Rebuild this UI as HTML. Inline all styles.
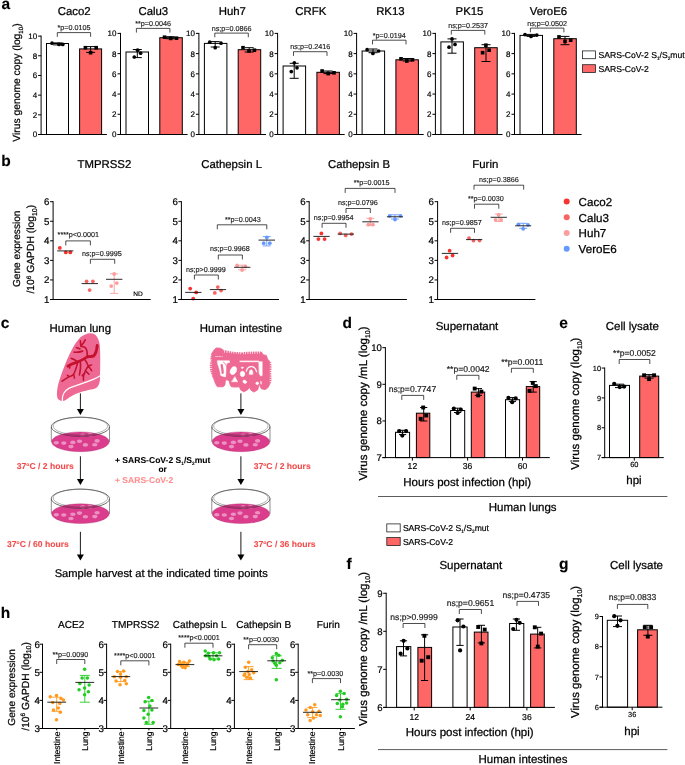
<!DOCTYPE html>
<html lang="en">
<head>
<meta charset="utf-8">
<title>Figure</title>
<style>
html,body{margin:0;padding:0;background:#fff;}
body{width:685px;height:765px;overflow:hidden;font-family:"Liberation Sans",sans-serif;}
svg{display:block;}
svg text{font-family:"Liberation Sans",sans-serif;text-rendering:geometricPrecision;}
</style>
</head>
<body>
<svg width="685" height="765" viewBox="0 0 685 765">
<rect x="0" y="0" width="685" height="765" fill="#fff"/>
<text x="1.6" y="8.8" font-size="15.5" text-anchor="start" font-weight="bold" fill="#000" stroke="#000" stroke-width="0.135">a</text>
<text x="20" y="82.5" font-size="10.3" text-anchor="middle" fill="#000" transform="rotate(-90 20 82.5)" stroke="#000" stroke-width="0.224">Virus genome copy (log<tspan font-size="6.18" dy="2.88">10</tspan><tspan dy="-2.88">)</tspan></text>
<rect x="46.5" y="43.5" width="22" height="91" fill="#fff" stroke="#000" stroke-width="1"/>
<rect x="79.6" y="48.9" width="22" height="85.6" fill="#ff6666" stroke="#000" stroke-width="1"/>
<line x1="41.1" y1="35.6" x2="41.1" y2="135" stroke="#000" stroke-width="1" />
<line x1="38.1" y1="134.5" x2="106.9" y2="134.5" stroke="#000" stroke-width="1" />
<line x1="38.1" y1="134.5" x2="41.1" y2="134.5" stroke="#000" stroke-width="1" />
<text x="37.1" y="137.38" font-size="8" text-anchor="end" fill="#000" stroke="#000" stroke-width="0.174">0</text>
<line x1="38.1" y1="114.82" x2="41.1" y2="114.82" stroke="#000" stroke-width="1" />
<text x="37.1" y="117.7" font-size="8" text-anchor="end" fill="#000" stroke="#000" stroke-width="0.174">2</text>
<line x1="38.1" y1="95.14" x2="41.1" y2="95.14" stroke="#000" stroke-width="1" />
<text x="37.1" y="98.02" font-size="8" text-anchor="end" fill="#000" stroke="#000" stroke-width="0.174">4</text>
<line x1="38.1" y1="75.46" x2="41.1" y2="75.46" stroke="#000" stroke-width="1" />
<text x="37.1" y="78.34" font-size="8" text-anchor="end" fill="#000" stroke="#000" stroke-width="0.174">6</text>
<line x1="38.1" y1="55.78" x2="41.1" y2="55.78" stroke="#000" stroke-width="1" />
<text x="37.1" y="58.66" font-size="8" text-anchor="end" fill="#000" stroke="#000" stroke-width="0.174">8</text>
<line x1="38.1" y1="36.1" x2="41.1" y2="36.1" stroke="#000" stroke-width="1" />
<text x="37.1" y="38.98" font-size="8" text-anchor="end" fill="#000" stroke="#000" stroke-width="0.174">10</text>
<text x="74.2" y="14.7" font-size="11.4" text-anchor="middle" fill="#000" stroke="#000" stroke-width="0.248">Caco2</text>
<path d="M57.6 42.9V44.9M53.1 42.9H62.1M53.1 44.9H62.1" fill="none" stroke="#000" stroke-width="1"/>
<path d="M90.6 46.6V52.4M86.1 46.6H95.1M86.1 52.4H95.1" fill="none" stroke="#000" stroke-width="1"/>
<circle cx="52" cy="43.2" r="1.85" fill="#000"/>
<circle cx="59" cy="44.4" r="1.85" fill="#000"/>
<circle cx="62.8" cy="44.4" r="1.85" fill="#000"/>
<rect x="83.6" y="45.9" width="3.6" height="3.6" fill="#000"/>
<rect x="94.4" y="45.9" width="3.6" height="3.6" fill="#000"/>
<rect x="88.8" y="50.9" width="3.6" height="3.6" fill="#000"/>
<path d="M57.3 36.8V32.6H90.6V36.8" fill="none" stroke="#000" stroke-width="0.7"/>
<text x="73.95" y="30.1" font-size="7.2" text-anchor="middle" fill="#222" stroke="#222" stroke-width="0.157">*p=0.0105</text>
<rect x="126" y="52" width="22.5" height="82.5" fill="#fff" stroke="#000" stroke-width="1"/>
<rect x="159.8" y="37.7" width="22.5" height="96.8" fill="#ff6666" stroke="#000" stroke-width="1"/>
<line x1="120.5" y1="32.9" x2="120.5" y2="135" stroke="#000" stroke-width="1" />
<line x1="117.5" y1="134.5" x2="187.6" y2="134.5" stroke="#000" stroke-width="1" />
<line x1="117.5" y1="134.5" x2="120.5" y2="134.5" stroke="#000" stroke-width="1" />
<text x="116.5" y="137.38" font-size="8" text-anchor="end" fill="#000" stroke="#000" stroke-width="0.174">0</text>
<line x1="117.5" y1="114.28" x2="120.5" y2="114.28" stroke="#000" stroke-width="1" />
<text x="116.5" y="117.16" font-size="8" text-anchor="end" fill="#000" stroke="#000" stroke-width="0.174">2</text>
<line x1="117.5" y1="94.06" x2="120.5" y2="94.06" stroke="#000" stroke-width="1" />
<text x="116.5" y="96.94" font-size="8" text-anchor="end" fill="#000" stroke="#000" stroke-width="0.174">4</text>
<line x1="117.5" y1="73.84" x2="120.5" y2="73.84" stroke="#000" stroke-width="1" />
<text x="116.5" y="76.72" font-size="8" text-anchor="end" fill="#000" stroke="#000" stroke-width="0.174">6</text>
<line x1="117.5" y1="53.62" x2="120.5" y2="53.62" stroke="#000" stroke-width="1" />
<text x="116.5" y="56.5" font-size="8" text-anchor="end" fill="#000" stroke="#000" stroke-width="0.174">8</text>
<line x1="117.5" y1="33.4" x2="120.5" y2="33.4" stroke="#000" stroke-width="1" />
<text x="116.5" y="36.28" font-size="8" text-anchor="end" fill="#000" stroke="#000" stroke-width="0.174">10</text>
<text x="153.3" y="14.7" font-size="11.4" text-anchor="middle" fill="#000" stroke="#000" stroke-width="0.248">Calu3</text>
<path d="M137.3 49.5V57.6M132.8 49.5H141.8M132.8 57.6H141.8" fill="none" stroke="#000" stroke-width="1"/>
<path d="M170.3 36.7V38.7M165.8 36.7H174.8M165.8 38.7H174.8" fill="none" stroke="#000" stroke-width="1"/>
<circle cx="137.6" cy="50.2" r="1.85" fill="#000"/>
<circle cx="140.6" cy="53.2" r="1.85" fill="#000"/>
<circle cx="134.3" cy="57" r="1.85" fill="#000"/>
<rect x="162.7" y="35.4" width="3.6" height="3.6" fill="#000"/>
<rect x="168.9" y="36.6" width="3.6" height="3.6" fill="#000"/>
<rect x="174.7" y="36.4" width="3.6" height="3.6" fill="#000"/>
<path d="M136.4 32.6V28.4H169.9V32.6" fill="none" stroke="#000" stroke-width="0.7"/>
<text x="153.15" y="25.9" font-size="7.2" text-anchor="middle" fill="#222" stroke="#222" stroke-width="0.157">**p=0.0046</text>
<rect x="204.4" y="43.4" width="22.5" height="91.1" fill="#fff" stroke="#000" stroke-width="1"/>
<rect x="238.2" y="49.7" width="22.5" height="84.8" fill="#ff6666" stroke="#000" stroke-width="1"/>
<line x1="198.9" y1="32.9" x2="198.9" y2="135" stroke="#000" stroke-width="1" />
<line x1="195.9" y1="134.5" x2="266" y2="134.5" stroke="#000" stroke-width="1" />
<line x1="195.9" y1="134.5" x2="198.9" y2="134.5" stroke="#000" stroke-width="1" />
<text x="194.9" y="137.38" font-size="8" text-anchor="end" fill="#000" stroke="#000" stroke-width="0.174">0</text>
<line x1="195.9" y1="114.28" x2="198.9" y2="114.28" stroke="#000" stroke-width="1" />
<text x="194.9" y="117.16" font-size="8" text-anchor="end" fill="#000" stroke="#000" stroke-width="0.174">2</text>
<line x1="195.9" y1="94.06" x2="198.9" y2="94.06" stroke="#000" stroke-width="1" />
<text x="194.9" y="96.94" font-size="8" text-anchor="end" fill="#000" stroke="#000" stroke-width="0.174">4</text>
<line x1="195.9" y1="73.84" x2="198.9" y2="73.84" stroke="#000" stroke-width="1" />
<text x="194.9" y="76.72" font-size="8" text-anchor="end" fill="#000" stroke="#000" stroke-width="0.174">6</text>
<line x1="195.9" y1="53.62" x2="198.9" y2="53.62" stroke="#000" stroke-width="1" />
<text x="194.9" y="56.5" font-size="8" text-anchor="end" fill="#000" stroke="#000" stroke-width="0.174">8</text>
<line x1="195.9" y1="33.4" x2="198.9" y2="33.4" stroke="#000" stroke-width="1" />
<text x="194.9" y="36.28" font-size="8" text-anchor="end" fill="#000" stroke="#000" stroke-width="0.174">10</text>
<text x="232.3" y="14.7" font-size="11.4" text-anchor="middle" fill="#000" stroke="#000" stroke-width="0.248">Huh7</text>
<path d="M215.2 41.6V47M210.7 41.6H219.7M210.7 47H219.7" fill="none" stroke="#000" stroke-width="1"/>
<path d="M249.2 47.7V52M244.7 47.7H253.7M244.7 52H253.7" fill="none" stroke="#000" stroke-width="1"/>
<circle cx="209.7" cy="42.2" r="1.85" fill="#000"/>
<circle cx="221" cy="43.2" r="1.85" fill="#000"/>
<circle cx="215.2" cy="47.7" r="1.85" fill="#000"/>
<rect x="241.2" y="45.9" width="3.6" height="3.6" fill="#000"/>
<rect x="247.2" y="49.2" width="3.6" height="3.6" fill="#000"/>
<rect x="252.6" y="48.4" width="3.6" height="3.6" fill="#000"/>
<path d="M214.8 37.3V33.1H248.3V37.3" fill="none" stroke="#000" stroke-width="0.7"/>
<text x="231.55" y="30.6" font-size="7.2" text-anchor="middle" fill="#222" stroke="#222" stroke-width="0.157">ns;p=0.0866</text>
<rect x="283.1" y="66" width="22.5" height="68.5" fill="#fff" stroke="#000" stroke-width="1"/>
<rect x="316.9" y="72.3" width="22.5" height="62.2" fill="#ff6666" stroke="#000" stroke-width="1"/>
<line x1="277.6" y1="32.9" x2="277.6" y2="135" stroke="#000" stroke-width="1" />
<line x1="274.6" y1="134.5" x2="344.7" y2="134.5" stroke="#000" stroke-width="1" />
<line x1="274.6" y1="134.5" x2="277.6" y2="134.5" stroke="#000" stroke-width="1" />
<text x="273.6" y="137.38" font-size="8" text-anchor="end" fill="#000" stroke="#000" stroke-width="0.174">0</text>
<line x1="274.6" y1="114.28" x2="277.6" y2="114.28" stroke="#000" stroke-width="1" />
<text x="273.6" y="117.16" font-size="8" text-anchor="end" fill="#000" stroke="#000" stroke-width="0.174">2</text>
<line x1="274.6" y1="94.06" x2="277.6" y2="94.06" stroke="#000" stroke-width="1" />
<text x="273.6" y="96.94" font-size="8" text-anchor="end" fill="#000" stroke="#000" stroke-width="0.174">4</text>
<line x1="274.6" y1="73.84" x2="277.6" y2="73.84" stroke="#000" stroke-width="1" />
<text x="273.6" y="76.72" font-size="8" text-anchor="end" fill="#000" stroke="#000" stroke-width="0.174">6</text>
<line x1="274.6" y1="53.62" x2="277.6" y2="53.62" stroke="#000" stroke-width="1" />
<text x="273.6" y="56.5" font-size="8" text-anchor="end" fill="#000" stroke="#000" stroke-width="0.174">8</text>
<line x1="274.6" y1="33.4" x2="277.6" y2="33.4" stroke="#000" stroke-width="1" />
<text x="273.6" y="36.28" font-size="8" text-anchor="end" fill="#000" stroke="#000" stroke-width="0.174">10</text>
<text x="310.8" y="14.7" font-size="11.4" text-anchor="middle" fill="#000" stroke="#000" stroke-width="0.248">CRFK</text>
<path d="M294.2 63.3V78.3M289.7 63.3H298.7M289.7 78.3H298.7" fill="none" stroke="#000" stroke-width="1"/>
<path d="M328 71V73.6M323.5 71H332.5M323.5 73.6H332.5" fill="none" stroke="#000" stroke-width="1"/>
<circle cx="294.3" cy="62.8" r="1.85" fill="#000"/>
<circle cx="297" cy="67.8" r="1.85" fill="#000"/>
<circle cx="291.3" cy="71.6" r="1.85" fill="#000"/>
<rect x="320.3" y="69.2" width="3.6" height="3.6" fill="#000"/>
<rect x="326.4" y="71.8" width="3.6" height="3.6" fill="#000"/>
<rect x="332.2" y="71" width="3.6" height="3.6" fill="#000"/>
<path d="M293.5 55.9V51.7H327V55.9" fill="none" stroke="#000" stroke-width="0.7"/>
<text x="310.25" y="49.2" font-size="7.2" text-anchor="middle" fill="#222" stroke="#222" stroke-width="0.157">ns;p=0.2416</text>
<rect x="362.1" y="51" width="22.5" height="83.5" fill="#fff" stroke="#000" stroke-width="1"/>
<rect x="395.9" y="59.8" width="22.5" height="74.7" fill="#ff6666" stroke="#000" stroke-width="1"/>
<line x1="356.6" y1="32.9" x2="356.6" y2="135" stroke="#000" stroke-width="1" />
<line x1="353.6" y1="134.5" x2="423.7" y2="134.5" stroke="#000" stroke-width="1" />
<line x1="353.6" y1="134.5" x2="356.6" y2="134.5" stroke="#000" stroke-width="1" />
<text x="352.6" y="137.38" font-size="8" text-anchor="end" fill="#000" stroke="#000" stroke-width="0.174">0</text>
<line x1="353.6" y1="114.28" x2="356.6" y2="114.28" stroke="#000" stroke-width="1" />
<text x="352.6" y="117.16" font-size="8" text-anchor="end" fill="#000" stroke="#000" stroke-width="0.174">2</text>
<line x1="353.6" y1="94.06" x2="356.6" y2="94.06" stroke="#000" stroke-width="1" />
<text x="352.6" y="96.94" font-size="8" text-anchor="end" fill="#000" stroke="#000" stroke-width="0.174">4</text>
<line x1="353.6" y1="73.84" x2="356.6" y2="73.84" stroke="#000" stroke-width="1" />
<text x="352.6" y="76.72" font-size="8" text-anchor="end" fill="#000" stroke="#000" stroke-width="0.174">6</text>
<line x1="353.6" y1="53.62" x2="356.6" y2="53.62" stroke="#000" stroke-width="1" />
<text x="352.6" y="56.5" font-size="8" text-anchor="end" fill="#000" stroke="#000" stroke-width="0.174">8</text>
<line x1="353.6" y1="33.4" x2="356.6" y2="33.4" stroke="#000" stroke-width="1" />
<text x="352.6" y="36.28" font-size="8" text-anchor="end" fill="#000" stroke="#000" stroke-width="0.174">10</text>
<text x="390.4" y="14.7" font-size="11.4" text-anchor="middle" fill="#000" stroke="#000" stroke-width="0.248">RK13</text>
<path d="M373 49V52.7M368.5 49H377.5M368.5 52.7H377.5" fill="none" stroke="#000" stroke-width="1"/>
<path d="M407.2 58.5V61M402.7 58.5H411.7M402.7 61H411.7" fill="none" stroke="#000" stroke-width="1"/>
<circle cx="367.1" cy="49.7" r="1.85" fill="#000"/>
<circle cx="378.6" cy="51" r="1.85" fill="#000"/>
<circle cx="372.9" cy="53.5" r="1.85" fill="#000"/>
<rect x="399.2" y="57" width="3.6" height="3.6" fill="#000"/>
<rect x="405" y="59.2" width="3.6" height="3.6" fill="#000"/>
<rect x="410.7" y="58" width="3.6" height="3.6" fill="#000"/>
<path d="M372.5 44.4V40.2H406V44.4" fill="none" stroke="#000" stroke-width="0.7"/>
<text x="389.25" y="37.7" font-size="7.2" text-anchor="middle" fill="#222" stroke="#222" stroke-width="0.157">*p=0.0194</text>
<rect x="440.9" y="41.9" width="22.5" height="92.6" fill="#fff" stroke="#000" stroke-width="1"/>
<rect x="474.7" y="47.7" width="22.5" height="86.8" fill="#ff6666" stroke="#000" stroke-width="1"/>
<line x1="435.4" y1="32.9" x2="435.4" y2="135" stroke="#000" stroke-width="1" />
<line x1="432.4" y1="134.5" x2="502.5" y2="134.5" stroke="#000" stroke-width="1" />
<line x1="432.4" y1="134.5" x2="435.4" y2="134.5" stroke="#000" stroke-width="1" />
<text x="431.4" y="137.38" font-size="8" text-anchor="end" fill="#000" stroke="#000" stroke-width="0.174">0</text>
<line x1="432.4" y1="114.28" x2="435.4" y2="114.28" stroke="#000" stroke-width="1" />
<text x="431.4" y="117.16" font-size="8" text-anchor="end" fill="#000" stroke="#000" stroke-width="0.174">2</text>
<line x1="432.4" y1="94.06" x2="435.4" y2="94.06" stroke="#000" stroke-width="1" />
<text x="431.4" y="96.94" font-size="8" text-anchor="end" fill="#000" stroke="#000" stroke-width="0.174">4</text>
<line x1="432.4" y1="73.84" x2="435.4" y2="73.84" stroke="#000" stroke-width="1" />
<text x="431.4" y="76.72" font-size="8" text-anchor="end" fill="#000" stroke="#000" stroke-width="0.174">6</text>
<line x1="432.4" y1="53.62" x2="435.4" y2="53.62" stroke="#000" stroke-width="1" />
<text x="431.4" y="56.5" font-size="8" text-anchor="end" fill="#000" stroke="#000" stroke-width="0.174">8</text>
<line x1="432.4" y1="33.4" x2="435.4" y2="33.4" stroke="#000" stroke-width="1" />
<text x="431.4" y="36.28" font-size="8" text-anchor="end" fill="#000" stroke="#000" stroke-width="0.174">10</text>
<text x="469.5" y="14.7" font-size="11.4" text-anchor="middle" fill="#000" stroke="#000" stroke-width="0.248">PK15</text>
<path d="M452 38.9V53.2M447.5 38.9H456.5M447.5 53.2H456.5" fill="none" stroke="#000" stroke-width="1"/>
<path d="M486 44.7V61.5M481.5 44.7H490.5M481.5 61.5H490.5" fill="none" stroke="#000" stroke-width="1"/>
<circle cx="452" cy="38.9" r="1.85" fill="#000"/>
<circle cx="455" cy="44.4" r="1.85" fill="#000"/>
<circle cx="449" cy="47.2" r="1.85" fill="#000"/>
<rect x="484.1" y="43.4" width="3.6" height="3.6" fill="#000"/>
<rect x="487.3" y="48.4" width="3.6" height="3.6" fill="#000"/>
<rect x="480.8" y="50.9" width="3.6" height="3.6" fill="#000"/>
<path d="M451.3 34.6V30.4H484.8V34.6" fill="none" stroke="#000" stroke-width="0.7"/>
<text x="468.05" y="27.9" font-size="7.2" text-anchor="middle" fill="#222" stroke="#222" stroke-width="0.157">ns;p=0.2537</text>
<rect x="520" y="35.4" width="22.5" height="99.1" fill="#fff" stroke="#000" stroke-width="1"/>
<rect x="553.8" y="38.7" width="22.5" height="95.8" fill="#ff6666" stroke="#000" stroke-width="1"/>
<line x1="514.5" y1="32.9" x2="514.5" y2="135" stroke="#000" stroke-width="1" />
<line x1="511.5" y1="134.5" x2="581.6" y2="134.5" stroke="#000" stroke-width="1" />
<line x1="511.5" y1="134.5" x2="514.5" y2="134.5" stroke="#000" stroke-width="1" />
<text x="510.5" y="137.38" font-size="8" text-anchor="end" fill="#000" stroke="#000" stroke-width="0.174">0</text>
<line x1="511.5" y1="114.28" x2="514.5" y2="114.28" stroke="#000" stroke-width="1" />
<text x="510.5" y="117.16" font-size="8" text-anchor="end" fill="#000" stroke="#000" stroke-width="0.174">2</text>
<line x1="511.5" y1="94.06" x2="514.5" y2="94.06" stroke="#000" stroke-width="1" />
<text x="510.5" y="96.94" font-size="8" text-anchor="end" fill="#000" stroke="#000" stroke-width="0.174">4</text>
<line x1="511.5" y1="73.84" x2="514.5" y2="73.84" stroke="#000" stroke-width="1" />
<text x="510.5" y="76.72" font-size="8" text-anchor="end" fill="#000" stroke="#000" stroke-width="0.174">6</text>
<line x1="511.5" y1="53.62" x2="514.5" y2="53.62" stroke="#000" stroke-width="1" />
<text x="510.5" y="56.5" font-size="8" text-anchor="end" fill="#000" stroke="#000" stroke-width="0.174">8</text>
<line x1="511.5" y1="33.4" x2="514.5" y2="33.4" stroke="#000" stroke-width="1" />
<text x="510.5" y="36.28" font-size="8" text-anchor="end" fill="#000" stroke="#000" stroke-width="0.174">10</text>
<text x="548.4" y="14.7" font-size="11.4" text-anchor="middle" fill="#000" stroke="#000" stroke-width="0.248">VeroE6</text>
<path d="M531 34.4V36.4M526.5 34.4H535.5M526.5 36.4H535.5" fill="none" stroke="#000" stroke-width="1"/>
<path d="M565 36.4V44.7M560.5 36.4H569.5M560.5 44.7H569.5" fill="none" stroke="#000" stroke-width="1"/>
<circle cx="525" cy="34.6" r="1.85" fill="#000"/>
<circle cx="531" cy="36.4" r="1.85" fill="#000"/>
<circle cx="536.8" cy="35.1" r="1.85" fill="#000"/>
<rect x="557.2" y="35.1" width="3.6" height="3.6" fill="#000"/>
<rect x="563.2" y="39.6" width="3.6" height="3.6" fill="#000"/>
<rect x="568.9" y="38.4" width="3.6" height="3.6" fill="#000"/>
<path d="M530.4 32.3V28.1H563.9V32.3" fill="none" stroke="#000" stroke-width="0.7"/>
<text x="547.15" y="25.6" font-size="7.2" text-anchor="middle" fill="#222" stroke="#222" stroke-width="0.157">ns;p=0.0502</text>
<rect x="582.4" y="50.9" width="13.1" height="7.8" fill="#fff" stroke="#222" stroke-width="0.8"/>
<rect x="582.4" y="64.7" width="13.1" height="7.8" fill="#ff6666" stroke="#222" stroke-width="0.8"/>
<text x="598.6" y="57.9" font-size="8.6" text-anchor="start" fill="#000" stroke="#000" stroke-width="0.187">SARS-CoV-2 S<tspan font-size="4.8" dy="2.5">1</tspan><tspan dy="-2.5">/S</tspan><tspan font-size="4.8" dy="2.5">2</tspan><tspan dy="-2.5">mut</tspan></text>
<text x="598.6" y="71.7" font-size="8.6" text-anchor="start" fill="#000" stroke="#000" stroke-width="0.187">SARS-CoV-2</text>
<text x="1.2" y="165.6" font-size="15.5" text-anchor="start" font-weight="bold" fill="#000" stroke="#000" stroke-width="0.135">b</text>
<text x="20" y="248.8" font-size="10.15" text-anchor="middle" fill="#000" transform="rotate(-90 20 248.8)" stroke="#000" stroke-width="0.221">Gene expression</text>
<text x="34" y="249.2" font-size="10.3" text-anchor="middle" fill="#000" transform="rotate(-90 34 249.2)" stroke="#000" stroke-width="0.224">/10<tspan font-size="6.4" dy="-3.4">6</tspan><tspan dy="3.4"> GAPDH (log</tspan><tspan font-size="7" dy="2.6">10</tspan><tspan dy="-2.6">)</tspan></text>
<text x="104.4" y="168.1" font-size="11.4" text-anchor="middle" fill="#000" stroke="#000" stroke-width="0.248">TMPRSS2</text>
<circle cx="59.8" cy="247.9" r="1.9" fill="#f7332f"/>
<circle cx="65.8" cy="252.4" r="1.9" fill="#f7332f"/>
<circle cx="70.3" cy="252.4" r="1.9" fill="#f7332f"/>
<line x1="57.2" y1="250.9" x2="73.4" y2="250.9" stroke="#111" stroke-width="0.9" />
<circle cx="86.6" cy="281.3" r="1.9" fill="#f76464"/>
<circle cx="92.9" cy="281.3" r="1.9" fill="#f76464"/>
<circle cx="89.6" cy="290.1" r="1.9" fill="#f76464"/>
<line x1="81.6" y1="283.6" x2="98" y2="283.6" stroke="#111" stroke-width="0.9" />
<path d="M114.2 273.8V293.4M110.2 273.8H118.2M110.2 293.4H118.2" fill="none" stroke="#fb9d9d" stroke-width="0.9"/>
<circle cx="114.2" cy="274" r="1.9" fill="#fb9d9d"/>
<circle cx="116.8" cy="283.1" r="1.9" fill="#fb9d9d"/>
<circle cx="111.2" cy="286.1" r="1.9" fill="#fb9d9d"/>
<line x1="106" y1="279.3" x2="122.4" y2="279.3" stroke="#111" stroke-width="0.9" />
<text x="138.1" y="295.8" font-size="6.6" text-anchor="middle" fill="#000" stroke="#000" stroke-width="0.143">ND</text>
<path d="M65.8 245.4V240.9H90.4V245.4" fill="none" stroke="#000" stroke-width="0.7"/>
<text x="78.3" y="237" font-size="7.2" text-anchor="middle" fill="#222" stroke="#222" stroke-width="0.157">****p&lt;0.0001</text>
<path d="M90.4 263.8V259.3H114.7V263.8" fill="none" stroke="#000" stroke-width="0.7"/>
<text x="101.8" y="255.6" font-size="7.2" text-anchor="middle" fill="#222" stroke="#222" stroke-width="0.157">ns;p=0.9995</text>
<line x1="53.1" y1="201.2" x2="53.1" y2="300" stroke="#000" stroke-width="1" />
<line x1="50.1" y1="299.5" x2="150.7" y2="299.5" stroke="#000" stroke-width="1" />
<line x1="50.1" y1="299.5" x2="53.1" y2="299.5" stroke="#000" stroke-width="1" />
<text x="49.5" y="302.99" font-size="9.7" text-anchor="end" fill="#000" stroke="#000" stroke-width="0.211">1</text>
<line x1="50.1" y1="279.94" x2="53.1" y2="279.94" stroke="#000" stroke-width="1" />
<text x="49.5" y="283.43" font-size="9.7" text-anchor="end" fill="#000" stroke="#000" stroke-width="0.211">2</text>
<line x1="50.1" y1="260.38" x2="53.1" y2="260.38" stroke="#000" stroke-width="1" />
<text x="49.5" y="263.87" font-size="9.7" text-anchor="end" fill="#000" stroke="#000" stroke-width="0.211">3</text>
<line x1="50.1" y1="240.82" x2="53.1" y2="240.82" stroke="#000" stroke-width="1" />
<text x="49.5" y="244.31" font-size="9.7" text-anchor="end" fill="#000" stroke="#000" stroke-width="0.211">4</text>
<line x1="50.1" y1="221.26" x2="53.1" y2="221.26" stroke="#000" stroke-width="1" />
<text x="49.5" y="224.75" font-size="9.7" text-anchor="end" fill="#000" stroke="#000" stroke-width="0.211">5</text>
<line x1="50.1" y1="201.7" x2="53.1" y2="201.7" stroke="#000" stroke-width="1" />
<text x="49.5" y="205.19" font-size="9.7" text-anchor="end" fill="#000" stroke="#000" stroke-width="0.211">6</text>
<text x="231.6" y="168.1" font-size="11.4" text-anchor="middle" fill="#000" stroke="#000" stroke-width="0.248">Cathepsin L</text>
<circle cx="190.2" cy="288.6" r="1.9" fill="#f7332f"/>
<circle cx="196.2" cy="292.4" r="1.9" fill="#f7332f"/>
<circle cx="193.2" cy="298.6" r="1.9" fill="#f7332f"/>
<line x1="185.2" y1="292.4" x2="201.5" y2="292.4" stroke="#111" stroke-width="0.9" />
<circle cx="217.8" cy="287.1" r="1.9" fill="#f76464"/>
<circle cx="221.1" cy="290.6" r="1.9" fill="#f76464"/>
<circle cx="214.8" cy="292.9" r="1.9" fill="#f76464"/>
<line x1="209.8" y1="289.6" x2="226.1" y2="289.6" stroke="#111" stroke-width="0.9" />
<path d="M242.25 265.2V269.8M238.25 265.2H246.25M238.25 269.8H246.25" fill="none" stroke="#fb9d9d" stroke-width="0.9"/>
<circle cx="237.1" cy="265.5" r="1.9" fill="#fb9d9d"/>
<circle cx="245.4" cy="266.5" r="1.9" fill="#fb9d9d"/>
<circle cx="242.1" cy="270" r="1.9" fill="#fb9d9d"/>
<line x1="234.1" y1="267.3" x2="250.4" y2="267.3" stroke="#111" stroke-width="0.9" />
<path d="M266.75 236.6V245.9M262.75 236.6H270.75M262.75 245.9H270.75" fill="none" stroke="#6699ff" stroke-width="0.9"/>
<circle cx="266.8" cy="237.4" r="1.9" fill="#6699ff"/>
<circle cx="263.7" cy="243.2" r="1.9" fill="#6699ff"/>
<circle cx="269.8" cy="243.2" r="1.9" fill="#6699ff"/>
<line x1="258.5" y1="240.1" x2="275" y2="240.1" stroke="#111" stroke-width="0.9" />
<path d="M194.4 279.5V275H218.3V279.5" fill="none" stroke="#000" stroke-width="0.7"/>
<text x="205.8" y="271.8" font-size="7.2" text-anchor="middle" fill="#222" stroke="#222" stroke-width="0.157">ns;p&gt;0.9999</text>
<path d="M218.3 259.5V255H242.4V259.5" fill="none" stroke="#000" stroke-width="0.7"/>
<text x="229.8" y="251.4" font-size="7.2" text-anchor="middle" fill="#222" stroke="#222" stroke-width="0.157">ns;p=0.9968</text>
<path d="M217.3 229.3V224.8H266.8V229.3" fill="none" stroke="#000" stroke-width="0.7"/>
<text x="242.9" y="221.6" font-size="7.2" text-anchor="middle" fill="#222" stroke="#222" stroke-width="0.157">**p=0.0043</text>
<line x1="181.4" y1="201.2" x2="181.4" y2="300" stroke="#000" stroke-width="1" />
<line x1="178.4" y1="299.5" x2="279" y2="299.5" stroke="#000" stroke-width="1" />
<line x1="178.4" y1="299.5" x2="181.4" y2="299.5" stroke="#000" stroke-width="1" />
<text x="177.8" y="302.99" font-size="9.7" text-anchor="end" fill="#000" stroke="#000" stroke-width="0.211">1</text>
<line x1="178.4" y1="279.94" x2="181.4" y2="279.94" stroke="#000" stroke-width="1" />
<text x="177.8" y="283.43" font-size="9.7" text-anchor="end" fill="#000" stroke="#000" stroke-width="0.211">2</text>
<line x1="178.4" y1="260.38" x2="181.4" y2="260.38" stroke="#000" stroke-width="1" />
<text x="177.8" y="263.87" font-size="9.7" text-anchor="end" fill="#000" stroke="#000" stroke-width="0.211">3</text>
<line x1="178.4" y1="240.82" x2="181.4" y2="240.82" stroke="#000" stroke-width="1" />
<text x="177.8" y="244.31" font-size="9.7" text-anchor="end" fill="#000" stroke="#000" stroke-width="0.211">4</text>
<line x1="178.4" y1="221.26" x2="181.4" y2="221.26" stroke="#000" stroke-width="1" />
<text x="177.8" y="224.75" font-size="9.7" text-anchor="end" fill="#000" stroke="#000" stroke-width="0.211">5</text>
<line x1="178.4" y1="201.7" x2="181.4" y2="201.7" stroke="#000" stroke-width="1" />
<text x="177.8" y="205.19" font-size="9.7" text-anchor="end" fill="#000" stroke="#000" stroke-width="0.211">6</text>
<text x="359" y="168.1" font-size="11.4" text-anchor="middle" fill="#000" stroke="#000" stroke-width="0.248">Cathepsin B</text>
<circle cx="321.4" cy="233.4" r="1.9" fill="#f7332f"/>
<circle cx="318.4" cy="239.1" r="1.9" fill="#f7332f"/>
<circle cx="324.6" cy="239.1" r="1.9" fill="#f7332f"/>
<line x1="313.4" y1="236.4" x2="329.7" y2="236.4" stroke="#111" stroke-width="0.9" />
<circle cx="340.2" cy="233.4" r="1.9" fill="#f76464"/>
<circle cx="345.7" cy="235.4" r="1.9" fill="#f76464"/>
<circle cx="351.5" cy="234.1" r="1.9" fill="#f76464"/>
<line x1="337.7" y1="234.1" x2="354" y2="234.1" stroke="#111" stroke-width="0.9" />
<path d="M370.45 218.3V225.6M366.45 218.3H374.45M366.45 225.6H374.45" fill="none" stroke="#fb9d9d" stroke-width="0.9"/>
<circle cx="370.3" cy="218.8" r="1.9" fill="#fb9d9d"/>
<circle cx="368.3" cy="224.6" r="1.9" fill="#fb9d9d"/>
<circle cx="372.9" cy="224.6" r="1.9" fill="#fb9d9d"/>
<line x1="362.3" y1="221.8" x2="378.6" y2="221.8" stroke="#111" stroke-width="0.9" />
<path d="M394.95 214.8V219M390.95 214.8H398.95M390.95 219H398.95" fill="none" stroke="#6699ff" stroke-width="0.9"/>
<circle cx="389.7" cy="215.8" r="1.9" fill="#6699ff"/>
<circle cx="400.5" cy="215.8" r="1.9" fill="#6699ff"/>
<circle cx="395" cy="219.5" r="1.9" fill="#6699ff"/>
<line x1="386.9" y1="216.8" x2="403" y2="216.8" stroke="#111" stroke-width="0.9" />
<path d="M322.1 227.8V223.3H346V227.8" fill="none" stroke="#000" stroke-width="0.7"/>
<text x="333.7" y="219.5" font-size="7.2" text-anchor="middle" fill="#222" stroke="#222" stroke-width="0.157">ns;p=0.9954</text>
<path d="M346 213V208.5H370.3V213" fill="none" stroke="#000" stroke-width="0.7"/>
<text x="357.8" y="204.8" font-size="7.2" text-anchor="middle" fill="#222" stroke="#222" stroke-width="0.157">ns;p=0.0796</text>
<path d="M345.2 192.9V188.4H395V192.9" fill="none" stroke="#000" stroke-width="0.7"/>
<text x="371.6" y="185.2" font-size="7.2" text-anchor="middle" fill="#222" stroke="#222" stroke-width="0.157">**p=0.0015</text>
<line x1="309.2" y1="201.2" x2="309.2" y2="300" stroke="#000" stroke-width="1" />
<line x1="306.2" y1="299.5" x2="406.9" y2="299.5" stroke="#000" stroke-width="1" />
<line x1="306.2" y1="299.5" x2="309.2" y2="299.5" stroke="#000" stroke-width="1" />
<text x="305.6" y="302.99" font-size="9.7" text-anchor="end" fill="#000" stroke="#000" stroke-width="0.211">1</text>
<line x1="306.2" y1="279.94" x2="309.2" y2="279.94" stroke="#000" stroke-width="1" />
<text x="305.6" y="283.43" font-size="9.7" text-anchor="end" fill="#000" stroke="#000" stroke-width="0.211">2</text>
<line x1="306.2" y1="260.38" x2="309.2" y2="260.38" stroke="#000" stroke-width="1" />
<text x="305.6" y="263.87" font-size="9.7" text-anchor="end" fill="#000" stroke="#000" stroke-width="0.211">3</text>
<line x1="306.2" y1="240.82" x2="309.2" y2="240.82" stroke="#000" stroke-width="1" />
<text x="305.6" y="244.31" font-size="9.7" text-anchor="end" fill="#000" stroke="#000" stroke-width="0.211">4</text>
<line x1="306.2" y1="221.26" x2="309.2" y2="221.26" stroke="#000" stroke-width="1" />
<text x="305.6" y="224.75" font-size="9.7" text-anchor="end" fill="#000" stroke="#000" stroke-width="0.211">5</text>
<line x1="306.2" y1="201.7" x2="309.2" y2="201.7" stroke="#000" stroke-width="1" />
<text x="305.6" y="205.19" font-size="9.7" text-anchor="end" fill="#000" stroke="#000" stroke-width="0.211">6</text>
<text x="485.3" y="168.1" font-size="11.4" text-anchor="middle" fill="#000" stroke="#000" stroke-width="0.248">Furin</text>
<circle cx="449.6" cy="250.7" r="1.9" fill="#f7332f"/>
<circle cx="446.6" cy="257.5" r="1.9" fill="#f7332f"/>
<circle cx="452.6" cy="255.5" r="1.9" fill="#f7332f"/>
<line x1="441.8" y1="253.4" x2="458.2" y2="253.4" stroke="#111" stroke-width="0.9" />
<circle cx="469" cy="238.1" r="1.9" fill="#f76464"/>
<circle cx="473.5" cy="240.6" r="1.9" fill="#f76464"/>
<circle cx="479.5" cy="240.6" r="1.9" fill="#f76464"/>
<line x1="466" y1="239.6" x2="482.3" y2="239.6" stroke="#111" stroke-width="0.9" />
<path d="M498.75 214V221.5M494.75 214H502.75M494.75 221.5H502.75" fill="none" stroke="#fb9d9d" stroke-width="0.9"/>
<circle cx="498.6" cy="214.8" r="1.9" fill="#fb9d9d"/>
<circle cx="495.6" cy="219.8" r="1.9" fill="#fb9d9d"/>
<circle cx="501.1" cy="219.8" r="1.9" fill="#fb9d9d"/>
<line x1="490.6" y1="217.3" x2="506.9" y2="217.3" stroke="#111" stroke-width="0.9" />
<path d="M523.2 223.3V228.3M519.2 223.3H527.2M519.2 228.3H527.2" fill="none" stroke="#6699ff" stroke-width="0.9"/>
<circle cx="518.4" cy="224.3" r="1.9" fill="#6699ff"/>
<circle cx="528" cy="224.8" r="1.9" fill="#6699ff"/>
<circle cx="523.2" cy="228.8" r="1.9" fill="#6699ff"/>
<line x1="515.2" y1="225.8" x2="531.2" y2="225.8" stroke="#111" stroke-width="0.9" />
<path d="M450.6 232.8V228.3H474.5V232.8" fill="none" stroke="#000" stroke-width="0.7"/>
<text x="461.9" y="224.7" font-size="7.2" text-anchor="middle" fill="#222" stroke="#222" stroke-width="0.157">ns;p=0.9857</text>
<path d="M474.5 208.7V204.2H498.8V208.7" fill="none" stroke="#000" stroke-width="0.7"/>
<text x="485.8" y="201" font-size="7.2" text-anchor="middle" fill="#222" stroke="#222" stroke-width="0.157">**p=0.0030</text>
<path d="M474 189.7V185.2H523.7V189.7" fill="none" stroke="#000" stroke-width="0.7"/>
<text x="498.8" y="181.5" font-size="7.2" text-anchor="middle" fill="#222" stroke="#222" stroke-width="0.157">ns;p=0.3866</text>
<line x1="437.6" y1="201.2" x2="437.6" y2="300" stroke="#000" stroke-width="1" />
<line x1="434.6" y1="299.5" x2="535.4" y2="299.5" stroke="#000" stroke-width="1" />
<line x1="434.6" y1="299.5" x2="437.6" y2="299.5" stroke="#000" stroke-width="1" />
<text x="434" y="302.99" font-size="9.7" text-anchor="end" fill="#000" stroke="#000" stroke-width="0.211">1</text>
<line x1="434.6" y1="279.94" x2="437.6" y2="279.94" stroke="#000" stroke-width="1" />
<text x="434" y="283.43" font-size="9.7" text-anchor="end" fill="#000" stroke="#000" stroke-width="0.211">2</text>
<line x1="434.6" y1="260.38" x2="437.6" y2="260.38" stroke="#000" stroke-width="1" />
<text x="434" y="263.87" font-size="9.7" text-anchor="end" fill="#000" stroke="#000" stroke-width="0.211">3</text>
<line x1="434.6" y1="240.82" x2="437.6" y2="240.82" stroke="#000" stroke-width="1" />
<text x="434" y="244.31" font-size="9.7" text-anchor="end" fill="#000" stroke="#000" stroke-width="0.211">4</text>
<line x1="434.6" y1="221.26" x2="437.6" y2="221.26" stroke="#000" stroke-width="1" />
<text x="434" y="224.75" font-size="9.7" text-anchor="end" fill="#000" stroke="#000" stroke-width="0.211">5</text>
<line x1="434.6" y1="201.7" x2="437.6" y2="201.7" stroke="#000" stroke-width="1" />
<text x="434" y="205.19" font-size="9.7" text-anchor="end" fill="#000" stroke="#000" stroke-width="0.211">6</text>
<circle cx="566.7" cy="201.4" r="3" fill="#f7332f"/>
<text x="578.6" y="205.7" font-size="11.6" text-anchor="start" fill="#000" stroke="#000" stroke-width="0.252">Caco2</text>
<circle cx="566.7" cy="217.2" r="3" fill="#f76464"/>
<text x="578.6" y="221.5" font-size="11.6" text-anchor="start" fill="#000" stroke="#000" stroke-width="0.252">Calu3</text>
<circle cx="566.7" cy="233" r="3" fill="#fb9d9d"/>
<text x="578.6" y="237.3" font-size="11.6" text-anchor="start" fill="#000" stroke="#000" stroke-width="0.252">Huh7</text>
<circle cx="566.7" cy="248.8" r="3" fill="#6699ff"/>
<text x="578.6" y="253.1" font-size="11.6" text-anchor="start" fill="#000" stroke="#000" stroke-width="0.252">VeroE6</text>
<text x="0.8" y="328" font-size="15.5" text-anchor="start" font-weight="bold" fill="#000" stroke="#000" stroke-width="0.135">c</text>
<text x="80.3" y="332.1" font-size="11.4" text-anchor="middle" fill="#000" stroke="#000" stroke-width="0.248">Human lung</text>
<text x="240.9" y="332.1" font-size="11.4" text-anchor="middle" fill="#000" stroke="#000" stroke-width="0.248">Human intestine</text>
<g transform="translate(40 325) scale(0.12555)">
<path d="M400 65 C440 62 470 100 476 160 C482 230 480 330 478 420 C478 470 462 505 420 512 C350 524 270 545 205 598 C180 612 145 605 137 575 C128 520 150 440 190 340 C225 250 270 150 320 100 C345 78 375 66 400 65Z" fill="#ee6a94"/>
<path d="M178 606 C176 560 185 530 230 505 C300 470 420 450 478 405" fill="none" stroke="#fff" stroke-width="10"/>
<g fill="none" stroke="#c4122f" stroke-linecap="round" stroke-linejoin="round">
<path d="M456 162 C452 200 446 228 428 246 C410 256 392 246 376 254 C350 270 320 288 290 298 C262 306 240 314 222 328" stroke-width="23"/>
<path d="M376 254 C378 220 376 196 360 180 C350 170 340 176 326 170 M326 170 C324 150 322 138 322 126 M326 170 C340 152 352 136 360 118 M340 208 C316 216 294 220 272 216 M318 190 C306 186 296 182 290 180" stroke-width="13"/>
<path d="M300 296 C284 280 266 270 250 266 M240 318 C236 326 234 334 236 342" stroke-width="14"/>
<path d="M352 268 C370 290 378 308 384 326 C396 340 404 350 412 364 M384 326 C394 322 402 320 410 318 M384 326 C366 350 354 376 348 402 C346 416 344 428 346 440 M362 366 C374 376 382 384 390 392 M356 384 C348 390 342 396 336 404" stroke-width="12.5"/>
<path d="M322 300 C326 330 322 362 314 398 M300 300 C290 340 280 370 268 392 C262 404 250 408 232 412 C214 420 194 436 176 448 M268 392 C272 404 274 414 274 424 M232 412 C226 406 222 402 218 400" stroke-width="12.5"/>
</g></g>
<g transform="translate(208 346) scale(0.06274)" stroke-linecap="round" stroke-linejoin="round">
<path d="M45 190 L60 120 L100 60 L130 32 L200 36 L250 70 L290 78 L400 100 L540 110 L610 100 L760 95 L850 95 L880 140 L930 150 L950 210 L1000 260 L1005 350 L1000 450 L1005 560 L980 620 L950 670 L910 695 L850 682 L830 640 L822 600 L806 650 L790 700 L730 735 L680 700 L660 655 L630 700 L570 730 L520 700 L500 650 L440 655 L370 650 L350 610 L340 560 L300 535 L275 560 L270 620 L240 650 L150 650 L120 600 L90 520 L60 450 L40 380 L35 300 L50 240Z" fill="#ee6a94" stroke="#ee6a94" stroke-width="14"/>
<path d="M262 70 L540 98 L850 84" fill="none" stroke="#fff" stroke-width="70" stroke-dasharray="11 26" stroke-linecap="butt"/>
<path d="M30 150 L46 470" fill="none" stroke="#fff" stroke-width="50" stroke-dasharray="10 24" stroke-linecap="butt"/>
<path d="M1010 240 L1006 620" fill="none" stroke="#fff" stroke-width="50" stroke-dasharray="10 26" stroke-linecap="butt"/>
<path d="M152 234 L340 234 L345 262 L302 272 L292 330 L286 400 L282 490 L256 490 L202 470 L190 400 L170 330 L152 282Z" fill="#fff" stroke="#fff" stroke-width="8"/>
<ellipse cx="405" cy="392" rx="46" ry="68" transform="rotate(25 405 392)" fill="#fff" stroke="#fff" stroke-width="8"/>
<path d="M430 492 L472 570 L380 570Z" fill="#fff" stroke="#fff" stroke-width="8"/>
<path d="M512 238 H810 V252 H512Z" fill="#fff" stroke="#fff" stroke-width="8"/>
<path d="M812 250 L864 250 L864 470 L840 480 L816 440Z" fill="#fff" stroke="#fff" stroke-width="8"/>
<path d="M612 400 C620 350 660 322 700 330 C740 338 768 370 774 410" fill="none" stroke="#fff" stroke-width="20"/>
<path d="M658 450 C654 400 672 378 688 380 C706 382 718 406 714 450Z" fill="#fff" stroke="#fff" stroke-width="8"/>
<ellipse cx="550" cy="445" rx="36" ry="44" fill="#fff" stroke="#fff" stroke-width="8"/>
<ellipse cx="546" cy="345" rx="16" ry="12" fill="#fff" stroke="#fff" stroke-width="8"/>
<ellipse cx="586" cy="570" rx="32" ry="24" transform="rotate(25 586 570)" fill="#fff" stroke="#fff" stroke-width="8"/>
<ellipse cx="785" cy="595" rx="22" ry="22" fill="#fff" stroke="#fff" stroke-width="8"/>
<path d="M842 565 L848 605" fill="none" stroke="#fff" stroke-width="18"/>
<path d="M218 306 C226 340 232 380 234 428" fill="none" stroke="#ee6a94" stroke-width="36"/>
<path d="M246 256 C290 280 312 340 316 420" fill="none" stroke="#ee6a94" stroke-width="13"/>
<path d="M120 168 H230" fill="none" stroke="#fff" stroke-width="9" stroke-dasharray="30 22"/>
</g>
<line x1="80.4" y1="393.4" x2="80.4" y2="409.5" stroke="#000" stroke-width="0.9" />
<path d="M76.9 409H83.9L80.4 415Z" fill="#000"/>
<clipPath id="dc1"><ellipse cx="80.4" cy="441.8" rx="28.8" ry="9.9"/></clipPath>
<ellipse cx="80.4" cy="441.8" rx="28.8" ry="9.9" fill="#dc3c8c" stroke="#a8316f" stroke-width="0.35"/>
<ellipse cx="56.3" cy="442.8" rx="2.7" ry="1.8" fill="#eb92c2"/>
<ellipse cx="63.8" cy="443.1" rx="2.7" ry="1.8" fill="#eb92c2"/>
<ellipse cx="72.9" cy="442.4" rx="2.7" ry="1.8" fill="#eb92c2"/>
<ellipse cx="79.5" cy="441.2" rx="2.7" ry="1.8" fill="#eb92c2"/>
<ellipse cx="71" cy="446.6" rx="2.7" ry="1.8" fill="#eb92c2"/>
<ellipse cx="85.4" cy="444.9" rx="2.7" ry="1.8" fill="#eb92c2"/>
<ellipse cx="94.8" cy="444.7" rx="2.7" ry="1.8" fill="#eb92c2"/>
<ellipse cx="97.1" cy="440.9" rx="2.7" ry="1.8" fill="#eb92c2"/>
<ellipse cx="82.7" cy="435.2" rx="2.7" ry="1.8" fill="#eb92c2"/>
<ellipse cx="90.2" cy="434.8" rx="2.7" ry="1.8" fill="#eb92c2"/>
<ellipse cx="80.4" cy="426.8" rx="29.1" ry="9.6" fill="none" stroke="#333" stroke-width="0.7"/>
<ellipse cx="80.4" cy="426.1" rx="27.2" ry="8.8" fill="none" stroke="#666" stroke-width="0.5"/>
<path d="M51.3 426.8V441.8M109.5 426.8V441.8" stroke="#444" stroke-width="0.6" fill="none"/>
<g clip-path="url(#dc1)"><ellipse cx="80.4" cy="426.4" rx="28.1" ry="9.2" fill="none" stroke="#b0286f" stroke-width="1.7" opacity="0.85"/></g>
<line x1="80.4" y1="456.3" x2="80.4" y2="479.4" stroke="#000" stroke-width="0.9" />
<path d="M76.9 478.9H83.9L80.4 484.9Z" fill="#000"/>
<clipPath id="dc2"><ellipse cx="80.4" cy="513.7" rx="28.8" ry="9.9"/></clipPath>
<ellipse cx="80.4" cy="513.7" rx="28.8" ry="9.9" fill="#dc3c8c" stroke="#a8316f" stroke-width="0.35"/>
<ellipse cx="56.3" cy="514.7" rx="2.7" ry="1.8" fill="#eb92c2"/>
<ellipse cx="63.8" cy="515" rx="2.7" ry="1.8" fill="#eb92c2"/>
<ellipse cx="72.9" cy="514.3" rx="2.7" ry="1.8" fill="#eb92c2"/>
<ellipse cx="79.5" cy="513.1" rx="2.7" ry="1.8" fill="#eb92c2"/>
<ellipse cx="71" cy="518.5" rx="2.7" ry="1.8" fill="#eb92c2"/>
<ellipse cx="85.4" cy="516.8" rx="2.7" ry="1.8" fill="#eb92c2"/>
<ellipse cx="94.8" cy="516.6" rx="2.7" ry="1.8" fill="#eb92c2"/>
<ellipse cx="97.1" cy="512.8" rx="2.7" ry="1.8" fill="#eb92c2"/>
<ellipse cx="82.7" cy="507.1" rx="2.7" ry="1.8" fill="#eb92c2"/>
<ellipse cx="90.2" cy="506.7" rx="2.7" ry="1.8" fill="#eb92c2"/>
<ellipse cx="80.4" cy="498.7" rx="29.1" ry="9.6" fill="none" stroke="#333" stroke-width="0.7"/>
<ellipse cx="80.4" cy="498" rx="27.2" ry="8.8" fill="none" stroke="#666" stroke-width="0.5"/>
<path d="M51.3 498.7V513.7M109.5 498.7V513.7" stroke="#444" stroke-width="0.6" fill="none"/>
<g clip-path="url(#dc2)"><ellipse cx="80.4" cy="498.3" rx="28.1" ry="9.2" fill="none" stroke="#b0286f" stroke-width="1.7" opacity="0.85"/></g>
<line x1="80.4" y1="531.8" x2="80.4" y2="555.1" stroke="#000" stroke-width="0.9" />
<path d="M76.9 554.6H83.9L80.4 560.6Z" fill="#000"/>
<line x1="240.9" y1="393.4" x2="240.9" y2="409.5" stroke="#000" stroke-width="0.9" />
<path d="M237.4 409H244.4L240.9 415Z" fill="#000"/>
<clipPath id="dc3"><ellipse cx="240.9" cy="441.8" rx="28.8" ry="9.9"/></clipPath>
<ellipse cx="240.9" cy="441.8" rx="28.8" ry="9.9" fill="#dc3c8c" stroke="#a8316f" stroke-width="0.35"/>
<ellipse cx="216.8" cy="442.8" rx="2.7" ry="1.8" fill="#eb92c2"/>
<ellipse cx="224.3" cy="443.1" rx="2.7" ry="1.8" fill="#eb92c2"/>
<ellipse cx="233.4" cy="442.4" rx="2.7" ry="1.8" fill="#eb92c2"/>
<ellipse cx="240" cy="441.2" rx="2.7" ry="1.8" fill="#eb92c2"/>
<ellipse cx="231.5" cy="446.6" rx="2.7" ry="1.8" fill="#eb92c2"/>
<ellipse cx="245.9" cy="444.9" rx="2.7" ry="1.8" fill="#eb92c2"/>
<ellipse cx="255.3" cy="444.7" rx="2.7" ry="1.8" fill="#eb92c2"/>
<ellipse cx="257.6" cy="440.9" rx="2.7" ry="1.8" fill="#eb92c2"/>
<ellipse cx="243.2" cy="435.2" rx="2.7" ry="1.8" fill="#eb92c2"/>
<ellipse cx="250.7" cy="434.8" rx="2.7" ry="1.8" fill="#eb92c2"/>
<ellipse cx="240.9" cy="426.8" rx="29.1" ry="9.6" fill="none" stroke="#333" stroke-width="0.7"/>
<ellipse cx="240.9" cy="426.1" rx="27.2" ry="8.8" fill="none" stroke="#666" stroke-width="0.5"/>
<path d="M211.8 426.8V441.8M270 426.8V441.8" stroke="#444" stroke-width="0.6" fill="none"/>
<g clip-path="url(#dc3)"><ellipse cx="240.9" cy="426.4" rx="28.1" ry="9.2" fill="none" stroke="#b0286f" stroke-width="1.7" opacity="0.85"/></g>
<line x1="240.9" y1="456.3" x2="240.9" y2="479.4" stroke="#000" stroke-width="0.9" />
<path d="M237.4 478.9H244.4L240.9 484.9Z" fill="#000"/>
<clipPath id="dc4"><ellipse cx="240.9" cy="513.7" rx="28.8" ry="9.9"/></clipPath>
<ellipse cx="240.9" cy="513.7" rx="28.8" ry="9.9" fill="#dc3c8c" stroke="#a8316f" stroke-width="0.35"/>
<ellipse cx="216.8" cy="514.7" rx="2.7" ry="1.8" fill="#eb92c2"/>
<ellipse cx="224.3" cy="515" rx="2.7" ry="1.8" fill="#eb92c2"/>
<ellipse cx="233.4" cy="514.3" rx="2.7" ry="1.8" fill="#eb92c2"/>
<ellipse cx="240" cy="513.1" rx="2.7" ry="1.8" fill="#eb92c2"/>
<ellipse cx="231.5" cy="518.5" rx="2.7" ry="1.8" fill="#eb92c2"/>
<ellipse cx="245.9" cy="516.8" rx="2.7" ry="1.8" fill="#eb92c2"/>
<ellipse cx="255.3" cy="516.6" rx="2.7" ry="1.8" fill="#eb92c2"/>
<ellipse cx="257.6" cy="512.8" rx="2.7" ry="1.8" fill="#eb92c2"/>
<ellipse cx="243.2" cy="507.1" rx="2.7" ry="1.8" fill="#eb92c2"/>
<ellipse cx="250.7" cy="506.7" rx="2.7" ry="1.8" fill="#eb92c2"/>
<ellipse cx="240.9" cy="498.7" rx="29.1" ry="9.6" fill="none" stroke="#333" stroke-width="0.7"/>
<ellipse cx="240.9" cy="498" rx="27.2" ry="8.8" fill="none" stroke="#666" stroke-width="0.5"/>
<path d="M211.8 498.7V513.7M270 498.7V513.7" stroke="#444" stroke-width="0.6" fill="none"/>
<g clip-path="url(#dc4)"><ellipse cx="240.9" cy="498.3" rx="28.1" ry="9.2" fill="none" stroke="#b0286f" stroke-width="1.7" opacity="0.85"/></g>
<line x1="240.9" y1="531.8" x2="240.9" y2="555.1" stroke="#000" stroke-width="0.9" />
<path d="M237.4 554.6H244.4L240.9 560.6Z" fill="#000"/>
<text x="16.8" y="469.4" font-size="8.6" text-anchor="start" font-weight="bold" fill="#f24a4a" stroke="#f24a4a" stroke-width="0.075">37<tspan font-size="5" dy="-3">o</tspan><tspan dy="3">C</tspan> / 2 hours</text>
<text x="7" y="546.5" font-size="8.6" text-anchor="start" font-weight="bold" fill="#f24a4a" stroke="#f24a4a" stroke-width="0.075">37<tspan font-size="5" dy="-3">o</tspan><tspan dy="3">C</tspan> / 60 hours</text>
<text x="253.7" y="469.4" font-size="8.6" text-anchor="start" font-weight="bold" fill="#f24a4a" stroke="#f24a4a" stroke-width="0.075">37<tspan font-size="5" dy="-3">o</tspan><tspan dy="3">C</tspan> / 2 hours</text>
<text x="253.7" y="546.5" font-size="8.6" text-anchor="start" font-weight="bold" fill="#f24a4a" stroke="#f24a4a" stroke-width="0.075">37<tspan font-size="5" dy="-3">o</tspan><tspan dy="3">C</tspan> / 36 hours</text>
<text x="115" y="462.7" font-size="8.55" text-anchor="start" font-weight="bold" fill="#000" stroke="#000" stroke-width="0.074">+ SARS-CoV-2 S<tspan font-size="4.8" dy="2.5">1</tspan><tspan dy="-2.5">/S</tspan><tspan font-size="4.8" dy="2.5">2</tspan><tspan dy="-2.5">mut</tspan></text>
<text x="162.7" y="472.4" font-size="8.4" text-anchor="middle" font-weight="bold" fill="#000" stroke="#000" stroke-width="0.073">or</text>
<text x="115" y="482.7" font-size="8.55" text-anchor="start" font-weight="bold" fill="#ff8f8f" stroke="#ff8f8f" stroke-width="0.074">+ SARS-CoV-2</text>
<text x="54.7" y="576.9" font-size="11.15" text-anchor="start" fill="#000" stroke="#000" stroke-width="0.242">Sample harvest at the indicated time points</text>
<text x="342.6" y="328.2" font-size="15.5" text-anchor="start" font-weight="bold" fill="#000" stroke="#000" stroke-width="0.135">d</text>
<text x="467" y="329.6" font-size="11.5" text-anchor="middle" fill="#000" stroke="#000" stroke-width="0.25">Supernatant</text>
<text x="366.8" y="403.5" font-size="11.5" text-anchor="middle" fill="#000" transform="rotate(-90 366.8 403.5)" stroke="#000" stroke-width="0.25">Virus genome copy /mL (log<tspan font-size="6.9" dy="3.22">10</tspan><tspan dy="-3.22">)</tspan></text>
<rect x="395.5" y="432.3" width="14.1" height="25.3" fill="#fff" stroke="#000" stroke-width="1"/>
<rect x="416.4" y="413.2" width="13.4" height="44.4" fill="#ff6666" stroke="#000" stroke-width="1"/>
<path d="M402.6 430.3V434.6M399 430.3H406.2M399 434.6H406.2" fill="none" stroke="#000" stroke-width="1"/>
<path d="M423.7 407.5V421M420.1 407.5H427.3M420.1 421H427.3" fill="none" stroke="#000" stroke-width="1"/>
<circle cx="399.1" cy="431.1" r="2.1" fill="#000"/>
<circle cx="406.1" cy="431.1" r="2.1" fill="#000"/>
<circle cx="402.3" cy="435.6" r="2.1" fill="#000"/>
<rect x="421.25" y="405.55" width="3.9" height="3.9" fill="#000"/>
<rect x="424.25" y="413.55" width="3.9" height="3.9" fill="#000"/>
<rect x="418.75" y="416.85" width="3.9" height="3.9" fill="#000"/>
<rect x="450.6" y="410.5" width="14.1" height="47.1" fill="#fff" stroke="#000" stroke-width="1"/>
<rect x="471.3" y="392.1" width="13.4" height="65.5" fill="#ff6666" stroke="#000" stroke-width="1"/>
<path d="M457.6 408.2V412.5M454 408.2H461.2M454 412.5H461.2" fill="none" stroke="#000" stroke-width="1"/>
<path d="M478.4 388.6V395.4M474.8 388.6H482M474.8 395.4H482" fill="none" stroke="#000" stroke-width="1"/>
<circle cx="453.8" cy="408.5" r="2.1" fill="#000"/>
<circle cx="460.8" cy="409.7" r="2.1" fill="#000"/>
<circle cx="457.6" cy="413" r="2.1" fill="#000"/>
<rect x="472.75" y="386.65" width="3.9" height="3.9" fill="#000"/>
<rect x="479.45" y="389.65" width="3.9" height="3.9" fill="#000"/>
<rect x="476.25" y="393.45" width="3.9" height="3.9" fill="#000"/>
<rect x="505.5" y="399.7" width="14.1" height="57.9" fill="#fff" stroke="#000" stroke-width="1"/>
<rect x="526.3" y="386.6" width="13.4" height="71" fill="#ff6666" stroke="#000" stroke-width="1"/>
<path d="M512.4 397.6V401.4M508.8 397.6H516M508.8 401.4H516" fill="none" stroke="#000" stroke-width="1"/>
<path d="M533.2 381.6V392.1M529.6 381.6H536.8M529.6 392.1H536.8" fill="none" stroke="#000" stroke-width="1"/>
<circle cx="508.4" cy="397.9" r="2.1" fill="#000"/>
<circle cx="515.7" cy="398.4" r="2.1" fill="#000"/>
<circle cx="512.2" cy="402.2" r="2.1" fill="#000"/>
<rect x="530.85" y="380.95" width="3.9" height="3.9" fill="#000"/>
<rect x="533.85" y="384.15" width="3.9" height="3.9" fill="#000"/>
<rect x="527.55" y="388.95" width="3.9" height="3.9" fill="#000"/>
<line x1="385.4" y1="347.15" x2="385.4" y2="458.1" stroke="#000" stroke-width="1" />
<line x1="382.4" y1="457.6" x2="549.8" y2="457.6" stroke="#000" stroke-width="1" />
<line x1="382.4" y1="457.6" x2="385.4" y2="457.6" stroke="#000" stroke-width="1" />
<text x="381.8" y="461.06" font-size="9.6" text-anchor="end" fill="#000" stroke="#000" stroke-width="0.209">7</text>
<line x1="382.4" y1="420.95" x2="385.4" y2="420.95" stroke="#000" stroke-width="1" />
<text x="381.8" y="424.41" font-size="9.6" text-anchor="end" fill="#000" stroke="#000" stroke-width="0.209">8</text>
<line x1="382.4" y1="384.3" x2="385.4" y2="384.3" stroke="#000" stroke-width="1" />
<text x="381.8" y="387.76" font-size="9.6" text-anchor="end" fill="#000" stroke="#000" stroke-width="0.209">9</text>
<line x1="382.4" y1="347.65" x2="385.4" y2="347.65" stroke="#000" stroke-width="1" />
<text x="381.8" y="351.11" font-size="9.6" text-anchor="end" fill="#000" stroke="#000" stroke-width="0.209">10</text>
<line x1="412.4" y1="457.6" x2="412.4" y2="460.6" stroke="#000" stroke-width="1" />
<text x="412.4" y="469.3" font-size="8.6" text-anchor="middle" fill="#000" stroke="#000" stroke-width="0.187">12</text>
<line x1="467.6" y1="457.6" x2="467.6" y2="460.6" stroke="#000" stroke-width="1" />
<text x="467.6" y="469.3" font-size="8.6" text-anchor="middle" fill="#000" stroke="#000" stroke-width="0.187">36</text>
<line x1="522.5" y1="457.6" x2="522.5" y2="460.6" stroke="#000" stroke-width="1" />
<text x="522.5" y="469.3" font-size="8.6" text-anchor="middle" fill="#000" stroke="#000" stroke-width="0.187">60</text>
<path d="M401.8 399.9V395.4H423.7V399.9" fill="none" stroke="#000" stroke-width="0.7"/>
<text x="412.4" y="391.6" font-size="8.6" text-anchor="middle" fill="#222" stroke="#222" stroke-width="0.187">ns;p=0.7747</text>
<path d="M456.8 379.8V375.3H478.9V379.8" fill="none" stroke="#000" stroke-width="0.7"/>
<text x="468.1" y="371.6" font-size="8.6" text-anchor="middle" fill="#222" stroke="#222" stroke-width="0.187">**p=0.0042</text>
<path d="M511.4 372.8V368.3H533.3V372.8" fill="none" stroke="#000" stroke-width="0.7"/>
<text x="522.2" y="364.8" font-size="8.6" text-anchor="middle" fill="#222" stroke="#222" stroke-width="0.187">**p=0.0011</text>
<text x="467.2" y="485.6" font-size="11.5" text-anchor="middle" fill="#000" stroke="#000" stroke-width="0.25">Hours post infection (hpi)</text>
<line x1="378" y1="496.5" x2="667.4" y2="496.5" stroke="#4a4a4a" stroke-width="0.9" />
<text x="522.7" y="510.8" font-size="11.5" text-anchor="middle" fill="#000" stroke="#000" stroke-width="0.25">Human lungs</text>
<text x="559.2" y="328.2" font-size="15.5" text-anchor="start" font-weight="bold" fill="#000" stroke="#000" stroke-width="0.135">e</text>
<text x="632.3" y="329.6" font-size="11.5" text-anchor="middle" fill="#000" stroke="#000" stroke-width="0.25">Cell lysate</text>
<text x="578.8" y="403.6" font-size="11.5" text-anchor="middle" fill="#000" transform="rotate(-90 578.8 403.6)" stroke="#000" stroke-width="0.25">Virus genome copy (log<tspan font-size="6.9" dy="3.22">10</tspan><tspan dy="-3.22">)</tspan></text>
<rect x="609.5" y="385.4" width="20" height="72.2" fill="#fff" stroke="#000" stroke-width="1"/>
<rect x="639.7" y="376.1" width="19" height="81.5" fill="#ff6666" stroke="#000" stroke-width="1"/>
<path d="M619.5 384.2V387.6M615 384.2H624M615 387.6H624" fill="none" stroke="#000" stroke-width="1"/>
<path d="M649.1 374.6V378.1M644.6 374.6H653.6M644.6 378.1H653.6" fill="none" stroke="#000" stroke-width="1"/>
<circle cx="614.2" cy="383.9" r="2.1" fill="#000"/>
<circle cx="619.7" cy="387.1" r="2.1" fill="#000"/>
<circle cx="624.2" cy="386.6" r="2.1" fill="#000"/>
<rect x="642.15" y="373.35" width="3.9" height="3.9" fill="#000"/>
<rect x="652.15" y="373.35" width="3.9" height="3.9" fill="#000"/>
<rect x="647.15" y="377.15" width="3.9" height="3.9" fill="#000"/>
<line x1="604.7" y1="367.55" x2="604.7" y2="458.1" stroke="#000" stroke-width="1" />
<line x1="601.7" y1="457.6" x2="663.8" y2="457.6" stroke="#000" stroke-width="1" />
<line x1="601.7" y1="457.6" x2="604.7" y2="457.6" stroke="#000" stroke-width="1" />
<text x="601.1" y="460.26" font-size="7.4" text-anchor="end" fill="#000" stroke="#000" stroke-width="0.161">7</text>
<line x1="601.7" y1="427.75" x2="604.7" y2="427.75" stroke="#000" stroke-width="1" />
<text x="601.1" y="430.41" font-size="7.4" text-anchor="end" fill="#000" stroke="#000" stroke-width="0.161">8</text>
<line x1="601.7" y1="397.9" x2="604.7" y2="397.9" stroke="#000" stroke-width="1" />
<text x="601.1" y="400.56" font-size="7.4" text-anchor="end" fill="#000" stroke="#000" stroke-width="0.161">9</text>
<line x1="601.7" y1="368.05" x2="604.7" y2="368.05" stroke="#000" stroke-width="1" />
<text x="601.1" y="370.71" font-size="7.4" text-anchor="end" fill="#000" stroke="#000" stroke-width="0.161">10</text>
<line x1="634.3" y1="457.6" x2="634.3" y2="460.6" stroke="#000" stroke-width="1" />
<text x="634.3" y="467.4" font-size="7.4" text-anchor="middle" fill="#000" stroke="#000" stroke-width="0.161">60</text>
<path d="M619.2 364V359.5H649.8V364" fill="none" stroke="#000" stroke-width="0.7"/>
<text x="634.5" y="355.7" font-size="8.6" text-anchor="middle" fill="#222" stroke="#222" stroke-width="0.187">**p=0.0052</text>
<text x="634" y="483.9" font-size="11.5" text-anchor="middle" fill="#000" stroke="#000" stroke-width="0.25">hpi</text>
<rect x="386.8" y="523.9" width="13.4" height="8" fill="#fff" stroke="#222" stroke-width="0.8"/>
<rect x="386.8" y="537.6" width="13.4" height="8" fill="#ff6666" stroke="#222" stroke-width="0.8"/>
<text x="402.9" y="530.9" font-size="8.6" text-anchor="start" fill="#000" stroke="#000" stroke-width="0.187">SARS-CoV-2 S<tspan font-size="4.8" dy="2.5">1</tspan><tspan dy="-2.5">/S</tspan><tspan font-size="4.8" dy="2.5">2</tspan><tspan dy="-2.5">mut</tspan></text>
<text x="402.9" y="544.7" font-size="8.6" text-anchor="start" fill="#000" stroke="#000" stroke-width="0.187">SARS-CoV-2</text>
<text x="346.4" y="569.3" font-size="15.5" text-anchor="start" font-weight="bold" fill="#000" stroke="#000" stroke-width="0.135">f</text>
<text x="470.8" y="569.3" font-size="11.5" text-anchor="middle" fill="#000" stroke="#000" stroke-width="0.25">Supernatant</text>
<text x="366.8" y="649" font-size="11.5" text-anchor="middle" fill="#000" transform="rotate(-90 366.8 649)" stroke="#000" stroke-width="0.25">Virus genome copy /mL (log<tspan font-size="6.9" dy="3.22">10</tspan><tspan dy="-3.22">)</tspan></text>
<rect x="396.6" y="646.6" width="14.2" height="60.8" fill="#fff" stroke="#000" stroke-width="1"/>
<rect x="417.9" y="647.4" width="13.7" height="60" fill="#ff6666" stroke="#000" stroke-width="1"/>
<path d="M403.5 640.8V655.9M399.9 640.8H407.1M399.9 655.9H407.1" fill="none" stroke="#000" stroke-width="1"/>
<path d="M424.6 634.8V680.5M421 634.8H428.2M421 680.5H428.2" fill="none" stroke="#000" stroke-width="1"/>
<circle cx="403.6" cy="640.8" r="2.1" fill="#000"/>
<circle cx="407.4" cy="648.4" r="2.1" fill="#000"/>
<circle cx="400.6" cy="653.7" r="2.1" fill="#000"/>
<rect x="422.45" y="633.85" width="3.9" height="3.9" fill="#000"/>
<rect x="426.25" y="655.25" width="3.9" height="3.9" fill="#000"/>
<rect x="419.75" y="658.75" width="3.9" height="3.9" fill="#000"/>
<rect x="452.9" y="627" width="14.2" height="80.4" fill="#fff" stroke="#000" stroke-width="1"/>
<rect x="474.3" y="632.1" width="13.7" height="75.3" fill="#ff6666" stroke="#000" stroke-width="1"/>
<path d="M460 619V645.4M456.4 619H463.6M456.4 645.4H463.6" fill="none" stroke="#000" stroke-width="1"/>
<path d="M481.4 625.3V642.9M477.8 625.3H485M477.8 642.9H485" fill="none" stroke="#000" stroke-width="1"/>
<circle cx="457.6" cy="620.3" r="2.1" fill="#000"/>
<circle cx="463.4" cy="626.5" r="2.1" fill="#000"/>
<circle cx="460.1" cy="650.4" r="2.1" fill="#000"/>
<rect x="476.25" y="625.05" width="3.9" height="3.9" fill="#000"/>
<rect x="482.75" y="627.65" width="3.9" height="3.9" fill="#000"/>
<rect x="479.45" y="641.45" width="3.9" height="3.9" fill="#000"/>
<rect x="509.6" y="623.5" width="14.2" height="83.9" fill="#fff" stroke="#000" stroke-width="1"/>
<rect x="530.6" y="634.1" width="13.7" height="73.3" fill="#ff6666" stroke="#000" stroke-width="1"/>
<path d="M516.4 619V630.3M512.8 619H520M512.8 630.3H520" fill="none" stroke="#000" stroke-width="1"/>
<path d="M537.7 627.3V647.9M534.1 627.3H541.3M534.1 647.9H541.3" fill="none" stroke="#000" stroke-width="1"/>
<circle cx="516.5" cy="619.8" r="2.1" fill="#000"/>
<circle cx="519.7" cy="622.8" r="2.1" fill="#000"/>
<circle cx="513.2" cy="629" r="2.1" fill="#000"/>
<rect x="532.85" y="625.35" width="3.9" height="3.9" fill="#000"/>
<rect x="539.15" y="631.65" width="3.9" height="3.9" fill="#000"/>
<rect x="535.85" y="644.65" width="3.9" height="3.9" fill="#000"/>
<line x1="386.2" y1="592.75" x2="386.2" y2="707.9" stroke="#000" stroke-width="1" />
<line x1="383.2" y1="707.4" x2="554.9" y2="707.4" stroke="#000" stroke-width="1" />
<line x1="383.2" y1="707.4" x2="386.2" y2="707.4" stroke="#000" stroke-width="1" />
<text x="382.6" y="710.86" font-size="9.6" text-anchor="end" fill="#000" stroke="#000" stroke-width="0.209">6</text>
<line x1="383.2" y1="669.35" x2="386.2" y2="669.35" stroke="#000" stroke-width="1" />
<text x="382.6" y="672.81" font-size="9.6" text-anchor="end" fill="#000" stroke="#000" stroke-width="0.209">7</text>
<line x1="383.2" y1="631.3" x2="386.2" y2="631.3" stroke="#000" stroke-width="1" />
<text x="382.6" y="634.76" font-size="9.6" text-anchor="end" fill="#000" stroke="#000" stroke-width="0.209">8</text>
<line x1="383.2" y1="593.25" x2="386.2" y2="593.25" stroke="#000" stroke-width="1" />
<text x="382.6" y="596.71" font-size="9.6" text-anchor="end" fill="#000" stroke="#000" stroke-width="0.209">9</text>
<line x1="414.2" y1="707.4" x2="414.2" y2="710.4" stroke="#000" stroke-width="1" />
<text x="414.2" y="720" font-size="8.6" text-anchor="middle" fill="#000" stroke="#000" stroke-width="0.187">12</text>
<line x1="470.2" y1="707.4" x2="470.2" y2="710.4" stroke="#000" stroke-width="1" />
<text x="470.2" y="720" font-size="8.6" text-anchor="middle" fill="#000" stroke="#000" stroke-width="0.187">24</text>
<line x1="526.9" y1="707.4" x2="526.9" y2="710.4" stroke="#000" stroke-width="1" />
<text x="526.9" y="720" font-size="8.6" text-anchor="middle" fill="#000" stroke="#000" stroke-width="0.187">36</text>
<path d="M403.1 628V623.5H424.9V628" fill="none" stroke="#000" stroke-width="0.7"/>
<text x="414.1" y="619.8" font-size="8.6" text-anchor="middle" fill="#222" stroke="#222" stroke-width="0.187">ns;p&gt;0.9999</text>
<path d="M459.3 614V609.5H481.4V614" fill="none" stroke="#000" stroke-width="0.7"/>
<text x="470.4" y="605.7" font-size="8.6" text-anchor="middle" fill="#222" stroke="#222" stroke-width="0.187">ns;p=0.9651</text>
<path d="M517 605.9V601.4H538.5V605.9" fill="none" stroke="#000" stroke-width="0.7"/>
<text x="526.2" y="597.7" font-size="8.6" text-anchor="middle" fill="#222" stroke="#222" stroke-width="0.187">ns;p=0.4735</text>
<text x="469.7" y="736.2" font-size="11.5" text-anchor="middle" fill="#000" stroke="#000" stroke-width="0.25">Hours post infection (hpi)</text>
<line x1="378" y1="749.6" x2="667.4" y2="749.6" stroke="#4a4a4a" stroke-width="0.9" />
<text x="523" y="763.3" font-size="11.5" text-anchor="middle" fill="#000" stroke="#000" stroke-width="0.25">Human intestines</text>
<text x="559" y="569.3" font-size="15.5" text-anchor="start" font-weight="bold" fill="#000" stroke="#000" stroke-width="0.135">g</text>
<text x="636.5" y="569.3" font-size="11.5" text-anchor="middle" fill="#000" stroke="#000" stroke-width="0.25">Cell lysate</text>
<text x="578.8" y="652" font-size="11.5" text-anchor="middle" fill="#000" transform="rotate(-90 578.8 652)" stroke="#000" stroke-width="0.25">Virus genome copy (log<tspan font-size="6.9" dy="3.22">10</tspan><tspan dy="-3.22">)</tspan></text>
<rect x="607.3" y="620.3" width="20.3" height="86.9" fill="#fff" stroke="#000" stroke-width="1"/>
<rect x="637.6" y="629.8" width="19.7" height="77.4" fill="#ff6666" stroke="#000" stroke-width="1"/>
<path d="M617.5 616V626.6M613 616H622M613 626.6H622" fill="none" stroke="#000" stroke-width="1"/>
<path d="M647.9 625.3V635.3M643.4 625.3H652.4M643.4 635.3H652.4" fill="none" stroke="#000" stroke-width="1"/>
<circle cx="614.2" cy="616.2" r="2.1" fill="#000"/>
<circle cx="620.5" cy="620.3" r="2.1" fill="#000"/>
<circle cx="617.4" cy="625.8" r="2.1" fill="#000"/>
<rect x="642.85" y="625.35" width="3.9" height="3.9" fill="#000"/>
<rect x="649.15" y="625.35" width="3.9" height="3.9" fill="#000"/>
<rect x="645.85" y="634.65" width="3.9" height="3.9" fill="#000"/>
<line x1="602.5" y1="616.01" x2="602.5" y2="707.7" stroke="#000" stroke-width="1" />
<line x1="599.5" y1="707.2" x2="662.4" y2="707.2" stroke="#000" stroke-width="1" />
<line x1="599.5" y1="707.2" x2="602.5" y2="707.2" stroke="#000" stroke-width="1" />
<text x="598.9" y="709.86" font-size="7.4" text-anchor="end" fill="#000" stroke="#000" stroke-width="0.161">6</text>
<line x1="599.5" y1="676.97" x2="602.5" y2="676.97" stroke="#000" stroke-width="1" />
<text x="598.9" y="679.63" font-size="7.4" text-anchor="end" fill="#000" stroke="#000" stroke-width="0.161">7</text>
<line x1="599.5" y1="646.74" x2="602.5" y2="646.74" stroke="#000" stroke-width="1" />
<text x="598.9" y="649.4" font-size="7.4" text-anchor="end" fill="#000" stroke="#000" stroke-width="0.161">8</text>
<line x1="599.5" y1="616.51" x2="602.5" y2="616.51" stroke="#000" stroke-width="1" />
<text x="598.9" y="619.17" font-size="7.4" text-anchor="end" fill="#000" stroke="#000" stroke-width="0.161">9</text>
<line x1="632.2" y1="707.2" x2="632.2" y2="710.2" stroke="#000" stroke-width="1" />
<text x="632.2" y="717.4" font-size="7.4" text-anchor="middle" fill="#000" stroke="#000" stroke-width="0.161">36</text>
<path d="M617.4 608.9V604.4H647.8V608.9" fill="none" stroke="#000" stroke-width="0.7"/>
<text x="632.5" y="600.2" font-size="8.6" text-anchor="middle" fill="#222" stroke="#222" stroke-width="0.187">ns;p=0.0833</text>
<text x="632" y="734.8" font-size="11.5" text-anchor="middle" fill="#000" stroke="#000" stroke-width="0.25">hpi</text>
<text x="0.8" y="618.2" font-size="15.5" text-anchor="start" font-weight="bold" fill="#000" stroke="#000" stroke-width="0.135">h</text>
<text x="15" y="687.4" font-size="10.15" text-anchor="middle" fill="#000" transform="rotate(-90 15 687.4)" stroke="#000" stroke-width="0.221">Gene expression</text>
<text x="28.8" y="686.4" font-size="10.3" text-anchor="middle" fill="#000" transform="rotate(-90 28.8 686.4)" stroke="#000" stroke-width="0.224">/10<tspan font-size="6.4" dy="-3.4">6</tspan><tspan dy="3.4"> GAPDH (log</tspan><tspan font-size="7" dy="2.6">10</tspan><tspan dy="-2.6">)</tspan></text>
<text x="71.1" y="627.7" font-size="10.1" text-anchor="middle" fill="#000" stroke="#000" stroke-width="0.22">ACE2</text>
<path d="M56.7 697.2V711.3M51.7 697.2H61.7M51.7 711.3H61.7" fill="none" stroke="#ff9a1f" stroke-width="0.9"/>
<circle cx="50.22" cy="696.71" r="1.75" fill="#ff9a1f"/>
<circle cx="56.5" cy="695.46" r="1.75" fill="#ff9a1f"/>
<circle cx="61.02" cy="698.47" r="1.75" fill="#ff9a1f"/>
<circle cx="63.53" cy="699.98" r="1.75" fill="#ff9a1f"/>
<circle cx="52.73" cy="702.49" r="1.75" fill="#ff9a1f"/>
<circle cx="59.76" cy="703.49" r="1.75" fill="#ff9a1f"/>
<circle cx="58.25" cy="708.01" r="1.75" fill="#ff9a1f"/>
<circle cx="53.48" cy="710.02" r="1.75" fill="#ff9a1f"/>
<circle cx="60.26" cy="712.28" r="1.75" fill="#ff9a1f"/>
<circle cx="56.5" cy="719.81" r="1.75" fill="#ff9a1f"/>
<line x1="47.3" y1="702.2" x2="66.1" y2="702.2" stroke="#111" stroke-width="0.9" />
<path d="M84.8 675.4V702.2M79.8 675.4H89.8M79.8 702.2H89.8" fill="none" stroke="#22cc22" stroke-width="0.9"/>
<circle cx="84.62" cy="669.35" r="1.75" fill="#22cc22"/>
<circle cx="82.11" cy="677.88" r="1.75" fill="#22cc22"/>
<circle cx="87.38" cy="677.88" r="1.75" fill="#22cc22"/>
<circle cx="79.85" cy="683.41" r="1.75" fill="#22cc22"/>
<circle cx="89.14" cy="684.91" r="1.75" fill="#22cc22"/>
<circle cx="84.62" cy="687.93" r="1.75" fill="#22cc22"/>
<circle cx="79.09" cy="689.68" r="1.75" fill="#22cc22"/>
<circle cx="88.38" cy="691.69" r="1.75" fill="#22cc22"/>
<circle cx="84.62" cy="694.71" r="1.75" fill="#22cc22"/>
<line x1="75.4" y1="682.4" x2="94.2" y2="682.4" stroke="#111" stroke-width="0.9" />
<path d="M56.7 664V659.5H84.8V664" fill="none" stroke="#000" stroke-width="0.7"/>
<text x="70.3" y="656.5" font-size="7.2" text-anchor="middle" fill="#222" stroke="#222" stroke-width="0.157">**p=0.0090</text>
<line x1="42.5" y1="643.7" x2="42.5" y2="729" stroke="#000" stroke-width="1" />
<line x1="39.5" y1="728.5" x2="99.2" y2="728.5" stroke="#000" stroke-width="1" />
<line x1="39.5" y1="728.5" x2="42.5" y2="728.5" stroke="#000" stroke-width="1" />
<text x="39.8" y="731.99" font-size="9.7" text-anchor="end" fill="#000" stroke="#000" stroke-width="0.211">3</text>
<line x1="39.5" y1="700.4" x2="42.5" y2="700.4" stroke="#000" stroke-width="1" />
<text x="39.8" y="703.89" font-size="9.7" text-anchor="end" fill="#000" stroke="#000" stroke-width="0.211">4</text>
<line x1="39.5" y1="672.3" x2="42.5" y2="672.3" stroke="#000" stroke-width="1" />
<text x="39.8" y="675.79" font-size="9.7" text-anchor="end" fill="#000" stroke="#000" stroke-width="0.211">5</text>
<line x1="39.5" y1="644.2" x2="42.5" y2="644.2" stroke="#000" stroke-width="1" />
<text x="39.8" y="647.69" font-size="9.7" text-anchor="end" fill="#000" stroke="#000" stroke-width="0.211">6</text>
<line x1="56.7" y1="728.5" x2="56.7" y2="730.3" stroke="#000" stroke-width="1" />
<text x="59.7" y="731.5" font-size="8.6" text-anchor="end" fill="#000" transform="rotate(-90 59.7 731.5)" stroke="#000" stroke-width="0.187">Intestine</text>
<line x1="84.8" y1="728.5" x2="84.8" y2="730.3" stroke="#000" stroke-width="1" />
<text x="87.8" y="731.5" font-size="8.6" text-anchor="end" fill="#000" transform="rotate(-90 87.8 731.5)" stroke="#000" stroke-width="0.187">Lung</text>
<text x="135.6" y="627.7" font-size="10.1" text-anchor="middle" fill="#000" stroke="#000" stroke-width="0.22">TMPRSS2</text>
<path d="M120.8 671.6V681.6M115.8 671.6H125.8M115.8 681.6H125.8" fill="none" stroke="#ff9a1f" stroke-width="0.9"/>
<circle cx="117.51" cy="671.6" r="1.75" fill="#ff9a1f"/>
<circle cx="123.54" cy="671.1" r="1.75" fill="#ff9a1f"/>
<circle cx="114.25" cy="676.63" r="1.75" fill="#ff9a1f"/>
<circle cx="120.52" cy="677.13" r="1.75" fill="#ff9a1f"/>
<circle cx="126.3" cy="676.63" r="1.75" fill="#ff9a1f"/>
<circle cx="116" cy="680.9" r="1.75" fill="#ff9a1f"/>
<circle cx="124.79" cy="680.39" r="1.75" fill="#ff9a1f"/>
<circle cx="120.02" cy="684.66" r="1.75" fill="#ff9a1f"/>
<circle cx="126.3" cy="683.66" r="1.75" fill="#ff9a1f"/>
<circle cx="120.52" cy="674.12" r="1.75" fill="#ff9a1f"/>
<line x1="111.4" y1="676.6" x2="130.2" y2="676.6" stroke="#111" stroke-width="0.9" />
<path d="M148.9 701.2V724.3M143.9 701.2H153.9M143.9 724.3H153.9" fill="none" stroke="#22cc22" stroke-width="0.9"/>
<circle cx="148.65" cy="697.47" r="1.75" fill="#22cc22"/>
<circle cx="151.91" cy="700.48" r="1.75" fill="#22cc22"/>
<circle cx="145.13" cy="701.74" r="1.75" fill="#22cc22"/>
<circle cx="149.9" cy="706" r="1.75" fill="#22cc22"/>
<circle cx="143.88" cy="710.52" r="1.75" fill="#22cc22"/>
<circle cx="151.91" cy="710.02" r="1.75" fill="#22cc22"/>
<circle cx="148.14" cy="714.29" r="1.75" fill="#22cc22"/>
<circle cx="143.88" cy="718.06" r="1.75" fill="#22cc22"/>
<circle cx="146.39" cy="722.58" r="1.75" fill="#22cc22"/>
<circle cx="153.17" cy="722.58" r="1.75" fill="#22cc22"/>
<line x1="139.5" y1="708" x2="158.3" y2="708" stroke="#111" stroke-width="0.9" />
<path d="M120.8 665.3V660.8H148.9V665.3" fill="none" stroke="#000" stroke-width="0.7"/>
<text x="134.8" y="657.8" font-size="7.2" text-anchor="middle" fill="#222" stroke="#222" stroke-width="0.157">****p&lt;0.0001</text>
<line x1="106.6" y1="643.7" x2="106.6" y2="729" stroke="#000" stroke-width="1" />
<line x1="103.6" y1="728.5" x2="163.3" y2="728.5" stroke="#000" stroke-width="1" />
<line x1="103.6" y1="728.5" x2="106.6" y2="728.5" stroke="#000" stroke-width="1" />
<text x="103.9" y="731.99" font-size="9.7" text-anchor="end" fill="#000" stroke="#000" stroke-width="0.211">3</text>
<line x1="103.6" y1="700.4" x2="106.6" y2="700.4" stroke="#000" stroke-width="1" />
<text x="103.9" y="703.89" font-size="9.7" text-anchor="end" fill="#000" stroke="#000" stroke-width="0.211">4</text>
<line x1="103.6" y1="672.3" x2="106.6" y2="672.3" stroke="#000" stroke-width="1" />
<text x="103.9" y="675.79" font-size="9.7" text-anchor="end" fill="#000" stroke="#000" stroke-width="0.211">5</text>
<line x1="103.6" y1="644.2" x2="106.6" y2="644.2" stroke="#000" stroke-width="1" />
<text x="103.9" y="647.69" font-size="9.7" text-anchor="end" fill="#000" stroke="#000" stroke-width="0.211">6</text>
<line x1="120.8" y1="728.5" x2="120.8" y2="730.3" stroke="#000" stroke-width="1" />
<text x="123.8" y="731.5" font-size="8.6" text-anchor="end" fill="#000" transform="rotate(-90 123.8 731.5)" stroke="#000" stroke-width="0.187">Intestine</text>
<line x1="148.9" y1="728.5" x2="148.9" y2="730.3" stroke="#000" stroke-width="1" />
<text x="151.9" y="731.5" font-size="8.6" text-anchor="end" fill="#000" transform="rotate(-90 151.9 731.5)" stroke="#000" stroke-width="0.187">Lung</text>
<text x="199.7" y="627.7" font-size="10.1" text-anchor="middle" fill="#000" stroke="#000" stroke-width="0.22">Cathepsin L</text>
<path d="M184.9 662.3V666.6M179.9 662.3H189.9M179.9 666.6H189.9" fill="none" stroke="#ff9a1f" stroke-width="0.9"/>
<circle cx="179.63" cy="661.56" r="1.75" fill="#ff9a1f"/>
<circle cx="183.9" cy="662.31" r="1.75" fill="#ff9a1f"/>
<circle cx="189.42" cy="661.06" r="1.75" fill="#ff9a1f"/>
<circle cx="181.39" cy="664.57" r="1.75" fill="#ff9a1f"/>
<circle cx="186.41" cy="665.33" r="1.75" fill="#ff9a1f"/>
<circle cx="178.37" cy="664.57" r="1.75" fill="#ff9a1f"/>
<circle cx="187.66" cy="664.07" r="1.75" fill="#ff9a1f"/>
<circle cx="182.64" cy="667.34" r="1.75" fill="#ff9a1f"/>
<circle cx="185.15" cy="667.84" r="1.75" fill="#ff9a1f"/>
<circle cx="182.14" cy="665.33" r="1.75" fill="#ff9a1f"/>
<line x1="175.5" y1="664.6" x2="194.3" y2="664.6" stroke="#111" stroke-width="0.9" />
<path d="M213 652.8V659M208 652.8H218M208 659H218" fill="none" stroke="#22cc22" stroke-width="0.9"/>
<circle cx="205.24" cy="651.02" r="1.75" fill="#22cc22"/>
<circle cx="208.25" cy="653.28" r="1.75" fill="#22cc22"/>
<circle cx="213.53" cy="652.77" r="1.75" fill="#22cc22"/>
<circle cx="219.55" cy="652.77" r="1.75" fill="#22cc22"/>
<circle cx="205.74" cy="655.79" r="1.75" fill="#22cc22"/>
<circle cx="216.54" cy="655.79" r="1.75" fill="#22cc22"/>
<circle cx="210.26" cy="659.05" r="1.75" fill="#22cc22"/>
<circle cx="214.03" cy="659.8" r="1.75" fill="#22cc22"/>
<circle cx="218.55" cy="659.05" r="1.75" fill="#22cc22"/>
<circle cx="209.01" cy="656.54" r="1.75" fill="#22cc22"/>
<line x1="203.6" y1="655.8" x2="222.4" y2="655.8" stroke="#111" stroke-width="0.9" />
<path d="M184.9 647.7V643.2H213V647.7" fill="none" stroke="#000" stroke-width="0.7"/>
<text x="199" y="639.7" font-size="7.2" text-anchor="middle" fill="#222" stroke="#222" stroke-width="0.157">****p&lt;0.0001</text>
<line x1="170.7" y1="643.7" x2="170.7" y2="729" stroke="#000" stroke-width="1" />
<line x1="167.7" y1="728.5" x2="227.4" y2="728.5" stroke="#000" stroke-width="1" />
<line x1="167.7" y1="728.5" x2="170.7" y2="728.5" stroke="#000" stroke-width="1" />
<text x="168" y="731.99" font-size="9.7" text-anchor="end" fill="#000" stroke="#000" stroke-width="0.211">3</text>
<line x1="167.7" y1="700.4" x2="170.7" y2="700.4" stroke="#000" stroke-width="1" />
<text x="168" y="703.89" font-size="9.7" text-anchor="end" fill="#000" stroke="#000" stroke-width="0.211">4</text>
<line x1="167.7" y1="672.3" x2="170.7" y2="672.3" stroke="#000" stroke-width="1" />
<text x="168" y="675.79" font-size="9.7" text-anchor="end" fill="#000" stroke="#000" stroke-width="0.211">5</text>
<line x1="167.7" y1="644.2" x2="170.7" y2="644.2" stroke="#000" stroke-width="1" />
<text x="168" y="647.69" font-size="9.7" text-anchor="end" fill="#000" stroke="#000" stroke-width="0.211">6</text>
<line x1="184.9" y1="728.5" x2="184.9" y2="730.3" stroke="#000" stroke-width="1" />
<text x="187.9" y="731.5" font-size="8.6" text-anchor="end" fill="#000" transform="rotate(-90 187.9 731.5)" stroke="#000" stroke-width="0.187">Intestine</text>
<line x1="213" y1="728.5" x2="213" y2="730.3" stroke="#000" stroke-width="1" />
<text x="216" y="731.5" font-size="8.6" text-anchor="end" fill="#000" transform="rotate(-90 216 731.5)" stroke="#000" stroke-width="0.187">Lung</text>
<text x="263.7" y="627.7" font-size="10.1" text-anchor="middle" fill="#000" stroke="#000" stroke-width="0.22">Cathepsin B</text>
<path d="M248.6 666.6V679.6M243.6 666.6H253.6M243.6 679.6H253.6" fill="none" stroke="#ff9a1f" stroke-width="0.9"/>
<circle cx="248.68" cy="662.31" r="1.75" fill="#ff9a1f"/>
<circle cx="245.42" cy="667.34" r="1.75" fill="#ff9a1f"/>
<circle cx="251.69" cy="669.85" r="1.75" fill="#ff9a1f"/>
<circle cx="244.91" cy="674.12" r="1.75" fill="#ff9a1f"/>
<circle cx="249.18" cy="674.62" r="1.75" fill="#ff9a1f"/>
<circle cx="253.7" cy="672.86" r="1.75" fill="#ff9a1f"/>
<circle cx="246.67" cy="677.13" r="1.75" fill="#ff9a1f"/>
<circle cx="250.44" cy="677.88" r="1.75" fill="#ff9a1f"/>
<circle cx="244.16" cy="675.37" r="1.75" fill="#ff9a1f"/>
<circle cx="247.93" cy="671.6" r="1.75" fill="#ff9a1f"/>
<line x1="239.2" y1="671.6" x2="258" y2="671.6" stroke="#111" stroke-width="0.9" />
<path d="M276.7 655.8V668.4M271.7 655.8H281.7M271.7 668.4H281.7" fill="none" stroke="#22cc22" stroke-width="0.9"/>
<circle cx="276.3" cy="653.53" r="1.75" fill="#22cc22"/>
<circle cx="278.81" cy="655.28" r="1.75" fill="#22cc22"/>
<circle cx="272.28" cy="657.79" r="1.75" fill="#22cc22"/>
<circle cx="282.33" cy="660.31" r="1.75" fill="#22cc22"/>
<circle cx="274.79" cy="663.32" r="1.75" fill="#22cc22"/>
<circle cx="279.81" cy="662.82" r="1.75" fill="#22cc22"/>
<circle cx="276.3" cy="665.33" r="1.75" fill="#22cc22"/>
<circle cx="273.04" cy="661.06" r="1.75" fill="#22cc22"/>
<circle cx="276.3" cy="679.64" r="1.75" fill="#22cc22"/>
<line x1="267.3" y1="660.8" x2="286.1" y2="660.8" stroke="#111" stroke-width="0.9" />
<path d="M248.6 649.2V644.7H276.7V649.2" fill="none" stroke="#000" stroke-width="0.7"/>
<text x="261.2" y="642" font-size="7.2" text-anchor="middle" fill="#222" stroke="#222" stroke-width="0.157">**p=0.0030</text>
<line x1="234.4" y1="643.7" x2="234.4" y2="729" stroke="#000" stroke-width="1" />
<line x1="231.4" y1="728.5" x2="291.1" y2="728.5" stroke="#000" stroke-width="1" />
<line x1="231.4" y1="728.5" x2="234.4" y2="728.5" stroke="#000" stroke-width="1" />
<text x="231.7" y="731.99" font-size="9.7" text-anchor="end" fill="#000" stroke="#000" stroke-width="0.211">3</text>
<line x1="231.4" y1="700.4" x2="234.4" y2="700.4" stroke="#000" stroke-width="1" />
<text x="231.7" y="703.89" font-size="9.7" text-anchor="end" fill="#000" stroke="#000" stroke-width="0.211">4</text>
<line x1="231.4" y1="672.3" x2="234.4" y2="672.3" stroke="#000" stroke-width="1" />
<text x="231.7" y="675.79" font-size="9.7" text-anchor="end" fill="#000" stroke="#000" stroke-width="0.211">5</text>
<line x1="231.4" y1="644.2" x2="234.4" y2="644.2" stroke="#000" stroke-width="1" />
<text x="231.7" y="647.69" font-size="9.7" text-anchor="end" fill="#000" stroke="#000" stroke-width="0.211">6</text>
<line x1="248.6" y1="728.5" x2="248.6" y2="730.3" stroke="#000" stroke-width="1" />
<text x="251.6" y="731.5" font-size="8.6" text-anchor="end" fill="#000" transform="rotate(-90 251.6 731.5)" stroke="#000" stroke-width="0.187">Intestine</text>
<line x1="276.7" y1="728.5" x2="276.7" y2="730.3" stroke="#000" stroke-width="1" />
<text x="279.7" y="731.5" font-size="8.6" text-anchor="end" fill="#000" transform="rotate(-90 279.7 731.5)" stroke="#000" stroke-width="0.187">Lung</text>
<text x="328.3" y="627.7" font-size="10.1" text-anchor="middle" fill="#000" stroke="#000" stroke-width="0.22">Furin</text>
<path d="M312.4 707.5V717.6M307.4 707.5H317.4M307.4 717.6H317.4" fill="none" stroke="#ff9a1f" stroke-width="0.9"/>
<circle cx="314.74" cy="704.75" r="1.75" fill="#ff9a1f"/>
<circle cx="310.22" cy="707.51" r="1.75" fill="#ff9a1f"/>
<circle cx="305.95" cy="710.02" r="1.75" fill="#ff9a1f"/>
<circle cx="319.01" cy="711.28" r="1.75" fill="#ff9a1f"/>
<circle cx="312.73" cy="711.78" r="1.75" fill="#ff9a1f"/>
<circle cx="307.71" cy="714.79" r="1.75" fill="#ff9a1f"/>
<circle cx="316.5" cy="714.79" r="1.75" fill="#ff9a1f"/>
<circle cx="320.26" cy="715.55" r="1.75" fill="#ff9a1f"/>
<circle cx="313.48" cy="718.06" r="1.75" fill="#ff9a1f"/>
<circle cx="310.22" cy="720.57" r="1.75" fill="#ff9a1f"/>
<line x1="303" y1="712.3" x2="321.8" y2="712.3" stroke="#111" stroke-width="0.9" />
<path d="M340.5 693.7V709.3M335.5 693.7H345.5M335.5 709.3H345.5" fill="none" stroke="#22cc22" stroke-width="0.9"/>
<circle cx="340.35" cy="691.19" r="1.75" fill="#22cc22"/>
<circle cx="344.12" cy="693.45" r="1.75" fill="#22cc22"/>
<circle cx="336.58" cy="695.46" r="1.75" fill="#22cc22"/>
<circle cx="346.63" cy="699.23" r="1.75" fill="#22cc22"/>
<circle cx="339.85" cy="699.98" r="1.75" fill="#22cc22"/>
<circle cx="342.86" cy="704.25" r="1.75" fill="#22cc22"/>
<circle cx="337.34" cy="703.49" r="1.75" fill="#22cc22"/>
<circle cx="346.63" cy="702.99" r="1.75" fill="#22cc22"/>
<circle cx="342.36" cy="706.76" r="1.75" fill="#22cc22"/>
<circle cx="340.35" cy="716.8" r="1.75" fill="#22cc22"/>
<line x1="331.1" y1="699.7" x2="349.9" y2="699.7" stroke="#111" stroke-width="0.9" />
<path d="M312.4 683.1V678.6H340.5V683.1" fill="none" stroke="#000" stroke-width="0.7"/>
<text x="325.3" y="676.1" font-size="7.2" text-anchor="middle" fill="#222" stroke="#222" stroke-width="0.157">**p=0.0030</text>
<line x1="298.2" y1="643.7" x2="298.2" y2="729" stroke="#000" stroke-width="1" />
<line x1="295.2" y1="728.5" x2="354.9" y2="728.5" stroke="#000" stroke-width="1" />
<line x1="295.2" y1="728.5" x2="298.2" y2="728.5" stroke="#000" stroke-width="1" />
<text x="295.5" y="731.99" font-size="9.7" text-anchor="end" fill="#000" stroke="#000" stroke-width="0.211">3</text>
<line x1="295.2" y1="700.4" x2="298.2" y2="700.4" stroke="#000" stroke-width="1" />
<text x="295.5" y="703.89" font-size="9.7" text-anchor="end" fill="#000" stroke="#000" stroke-width="0.211">4</text>
<line x1="295.2" y1="672.3" x2="298.2" y2="672.3" stroke="#000" stroke-width="1" />
<text x="295.5" y="675.79" font-size="9.7" text-anchor="end" fill="#000" stroke="#000" stroke-width="0.211">5</text>
<line x1="295.2" y1="644.2" x2="298.2" y2="644.2" stroke="#000" stroke-width="1" />
<text x="295.5" y="647.69" font-size="9.7" text-anchor="end" fill="#000" stroke="#000" stroke-width="0.211">6</text>
<line x1="312.4" y1="728.5" x2="312.4" y2="730.3" stroke="#000" stroke-width="1" />
<text x="315.4" y="731.5" font-size="8.6" text-anchor="end" fill="#000" transform="rotate(-90 315.4 731.5)" stroke="#000" stroke-width="0.187">Intestine</text>
<line x1="340.5" y1="728.5" x2="340.5" y2="730.3" stroke="#000" stroke-width="1" />
<text x="343.5" y="731.5" font-size="8.6" text-anchor="end" fill="#000" transform="rotate(-90 343.5 731.5)" stroke="#000" stroke-width="0.187">Lung</text>
</svg>
</body>
</html>
